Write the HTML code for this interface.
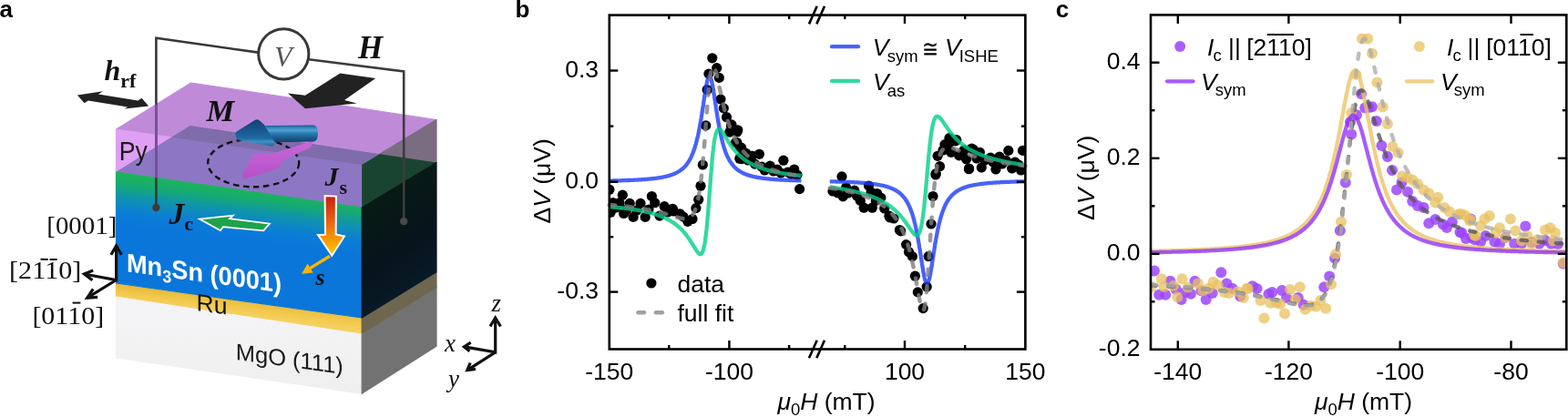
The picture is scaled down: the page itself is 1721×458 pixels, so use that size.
<!DOCTYPE html>
<html><head><meta charset="utf-8"><title>Figure</title>
<style>
html,body{margin:0;padding:0;background:#fff;}
body{width:1721px;height:458px;overflow:hidden;}
svg{display:block;}
.s{font-family:'Liberation Sans', Arial, Helvetica, sans-serif;}
.r{font-family:'Liberation Serif', 'Times New Roman', serif;}
</style></head><body>
<svg width="1721" height="458" viewBox="0 0 1721 458">
<rect width="1721" height="458" fill="#fff"/>

<defs>
<linearGradient id="mnF" gradientUnits="userSpaceOnUse" x1="262" y1="208" x2="255.5" y2="262">
<stop offset="0" stop-color="#1db25e"/><stop offset="0.15" stop-color="#17ad6c"/><stop offset="0.45" stop-color="#0f92b0"/><stop offset="0.75" stop-color="#0b7dd6"/><stop offset="1" stop-color="#0a76da"/></linearGradient>
<linearGradient id="mnF2" gradientUnits="userSpaceOnUse" x1="0" y1="250" x2="0" y2="340">
<stop offset="0" stop-color="#1a72d2" stop-opacity="0"/><stop offset="1" stop-color="#1466c6" stop-opacity="0.6"/></linearGradient>
<linearGradient id="mnR" gradientUnits="userSpaceOnUse" x1="400" y1="230" x2="470" y2="330">
<stop offset="0" stop-color="#071a14"/><stop offset="0.5" stop-color="#06141c"/><stop offset="1" stop-color="#0a1c2c"/></linearGradient>
<linearGradient id="ruF" gradientUnits="userSpaceOnUse" x1="262" y1="330" x2="260" y2="346">
<stop offset="0" stop-color="#e8bd3c"/><stop offset="0.5" stop-color="#f2c94e"/><stop offset="1" stop-color="#f6d060"/></linearGradient>
<linearGradient id="mgF" gradientUnits="userSpaceOnUse" x1="0" y1="340" x2="0" y2="430">
<stop offset="0" stop-color="#f4f4f6"/><stop offset="1" stop-color="#efefef"/></linearGradient>
<linearGradient id="jsG" x1="0" y1="0" x2="0" y2="1">
<stop offset="0" stop-color="#c81e10"/><stop offset="0.45" stop-color="#ee6410"/><stop offset="0.75" stop-color="#f89c00"/><stop offset="1" stop-color="#ffcc00"/></linearGradient>
<linearGradient id="mArrow" x1="0" y1="0" x2="0" y2="1">
<stop offset="0" stop-color="#1a4e80"/><stop offset="0.35" stop-color="#2a78a8"/><stop offset="0.55" stop-color="#1a5a8a"/><stop offset="1" stop-color="#123e68"/></linearGradient>
<linearGradient id="mHead" x1="0" y1="0" x2="0" y2="1">
<stop offset="0" stop-color="#1a4a7c"/><stop offset="0.6" stop-color="#1e6a9a"/><stop offset="0.8" stop-color="#3a8ab8"/><stop offset="1" stop-color="#154870"/></linearGradient>
</defs>
<polygon points="127.5,142.0 209.6,91.0 479.0,131.5 397.2,181.0" fill="#bf8bd9" stroke="#bf8bd9" stroke-width="1.2" stroke-linejoin="round"/>
<polygon points="127.5,142.0 397.2,181.0 397.2,228.0 127.5,189.0" fill="#df9ff4" stroke="#df9ff4" stroke-width="1.2" stroke-linejoin="round"/>
<polygon points="397.2,181.0 479.0,131.5 479.0,178.5 397.2,228.0" fill="#7a6d82" stroke="#7a6d82" stroke-width="1.2" stroke-linejoin="round"/>
<clipPath id="topPy"><polygon points="127.5,142.0 209.6,91.0 479.0,131.5 397.2,181.0"/></clipPath>
<clipPath id="frontPy"><polygon points="127.5,142.0 397.2,181.0 397.2,228.0 127.5,189.0"/></clipPath>
<clipPath id="rightPy"><polygon points="397.2,181.0 479.0,131.5 479.0,178.5 397.2,228.0"/></clipPath>
<clipPath id="tfPy"><polygon points="127.5,189.0 127.5,142.0 209.6,91.0 479.0,131.5 397.2,181.0 397.2,228.0"/></clipPath>
<polygon clip-path="url(#tfPy)" points="208.5,138.0 479.0,178.5 397.2,228.0 127.5,189.0" fill="#7f6caa"/>
<polygon clip-path="url(#frontPy)" points="208.5,138.0 479.0,178.5 397.2,228.0 127.5,189.0" fill="#8d77c4"/>
<polygon clip-path="url(#rightPy)" points="208.5,138.0 479.0,178.5 397.2,228.0 127.5,189.0" fill="#1a4432"/>
<polygon points="127.5,325.0 397.2,366.0 397.2,432.3 127.5,393.0" fill="url(#mgF)" stroke="url(#mgF)" stroke-width="1.2" stroke-linejoin="round"/>
<polygon points="397.2,366.0 479.0,315.5 479.0,380.3 397.2,432.3" fill="#727272" stroke="#727272" stroke-width="1.2" stroke-linejoin="round"/>
<polygon points="127.5,311.0 397.2,349.0 397.2,366.0 127.5,325.0" fill="url(#ruF)" stroke="url(#ruF)" stroke-width="1.2" stroke-linejoin="round"/>
<polygon points="397.2,349.0 479.0,298.8 479.0,315.5 397.2,366.0" fill="#6f6650" stroke="#6f6650" stroke-width="1.2" stroke-linejoin="round"/>
<polygon points="127.5,189.0 397.2,228.0 397.2,349.0 127.5,311.0" fill="url(#mnF)" stroke="url(#mnF)" stroke-width="1.2" stroke-linejoin="round"/>
<polygon points="397.2,228.0 479.0,178.5 479.0,298.8 397.2,349.0" fill="url(#mnR)" stroke="url(#mnR)" stroke-width="1.2" stroke-linejoin="round"/>
<polyline points="171.4,228 171.4,41.8 283.5,57.6" fill="none" stroke="#383838" stroke-width="2.6"/>
<line x1="171.4" y1="114.6" x2="171.4" y2="195.4" stroke="#7a52a0" stroke-width="2.6"/>
<circle cx="171.4" cy="228" r="4.2" fill="#3a3a3a"/>
<polyline points="339,65.2 443.2,78.5 443.2,243" fill="none" stroke="#3c3c3c" stroke-width="2.6"/>
<circle cx="443.2" cy="243" r="4.2" fill="#4a4a4a"/>
<circle cx="311.3" cy="59.3" r="27.6" fill="#fff" stroke="#383838" stroke-width="3"/>
<text class="r" x="301" y="73" font-size="32" font-style="italic" fill="#555">V</text>
<polygon points="373.3,80.4 412.3,86 378,110 391.7,113.5 335,119.2 316,102.4 335,104.8" fill="#222"/>
<text class="r" x="393" y="63.6" font-size="35" font-style="italic" font-weight="bold" fill="#111">H</text>
<polygon points="84.9,104.4 112.8,100.2 108,103.5 151.3,110.5 155.5,107.7 163.2,116.5 136.6,119.6 140.1,117.5 96.8,110.5 92.6,113.3" fill="#222"/>
<text class="r" x="114.5" y="88" font-size="32" font-style="italic" font-weight="bold" fill="#111">h<tspan font-size="22" font-style="normal" dy="8">rf</tspan></text>
<text class="r" x="226.5" y="132.6" font-size="34.5" font-style="italic" font-weight="bold" fill="#111">M</text>
<ellipse cx="278.2" cy="179" rx="50" ry="26.3" fill="none" stroke="#111" stroke-width="2.4" stroke-dasharray="6.5,4.5"/>
<linearGradient id="pinkG" x1="0" y1="0" x2="0" y2="1"><stop offset="0" stop-color="#c868d8"/><stop offset="1" stop-color="#b650c8"/></linearGradient>
<polygon points="265.4,193.1 278,169.6 299.7,168.4 344,154.5 341,162 310.5,176.2 305.7,184.7 268.4,196.7" fill="url(#pinkG)"/>
<linearGradient id="mShaft" gradientUnits="userSpaceOnUse" x1="0" y1="137.5" x2="0" y2="156"><stop offset="0" stop-color="#1a4f80"/><stop offset="0.12" stop-color="#2d7fb5"/><stop offset="0.3" stop-color="#4fa3d2"/><stop offset="0.5" stop-color="#2a78ae"/><stop offset="0.8" stop-color="#1a5686"/><stop offset="1" stop-color="#143f6a"/></linearGradient>
<linearGradient id="mHead2" gradientUnits="userSpaceOnUse" x1="0" y1="131" x2="0" y2="161"><stop offset="0" stop-color="#143e6c"/><stop offset="0.45" stop-color="#1a5a92"/><stop offset="0.7" stop-color="#1e6aa2"/><stop offset="0.82" stop-color="#3d92c4"/><stop offset="0.92" stop-color="#2a78b0"/><stop offset="1" stop-color="#184a78"/></linearGradient>
<path d="M291,138 L344,137.6 Q349,138 349,146.5 Q349,155 344,155.6 L300,156.3 Z" fill="url(#mShaft)"/>
<path d="M258.5,146 Q259,144.5 262,143 L280,131.8 Q283,130.5 285,132.5 L290,137 L301.5,156 Q302.5,160 298,160.5 L264,154.5 Q258,153 258.5,146 Z" fill="url(#mHead2)"/>
<polygon points="219,240.6 255.7,236.6 252,240.2 295.9,245.6 289.3,253.4 244.9,249.2 241.9,253.2" fill="#1fa34a" stroke="#fff" stroke-width="1.8" stroke-linejoin="miter"/>
<text class="r" x="185.5" y="245.8" font-size="33.5" font-style="italic" font-weight="bold" fill="#111">J<tspan font-size="22" font-style="normal" dy="7.5">c</tspan></text>
<polygon points="356.6,215.1 368.9,215.6 368.6,257.5 378,259.5 364.3,280.8 349,257.9 357,257.7" fill="url(#jsG)" stroke="#fff" stroke-width="2"/>
<text class="r" x="356.5" y="204.4" font-size="30" font-style="italic" font-weight="bold" fill="#111">J<tspan font-size="22" font-style="normal" dy="8.6" dx="1">s</tspan></text>
<line x1="362" y1="281.2" x2="337" y2="296.6" stroke="#fdb400" stroke-width="3.4"/>
<polygon points="331,300.8 337.6,289.4 343.6,299.6" fill="#fdb400"/>
<text class="r" x="346.5" y="313.4" font-size="26" font-style="italic" font-weight="bold" fill="#111">s</text>
<text class="s" x="130.8" y="176" font-size="29" textLength="31" lengthAdjust="spacingAndGlyphs" fill="#1a1a1a">Py</text>
<text class="s" transform="translate(139,298.3) skewY(7.7)" font-size="28.5" font-weight="bold" fill="#fff" textLength="170" lengthAdjust="spacingAndGlyphs">Mn<tspan font-size="19" dy="6">3</tspan><tspan dy="-6">Sn (0001)</tspan></text>
<text class="s" transform="translate(215.5,341) skewY(7.7)" font-size="26.5" fill="#111">Ru</text>
<text class="s" transform="translate(258.8,395) skewY(7.7)" font-size="25.5" textLength="118" lengthAdjust="spacingAndGlyphs" fill="#1a1a1a">MgO (111)</text>
<g stroke="#111" stroke-width="3.2" fill="none" stroke-linejoin="miter" stroke-linecap="butt"><polyline points="92.4,301 127.6,307.5 127.6,270.5"/><line x1="127.6" y1="307.5" x2="95.7" y2="327.2"/><polyline points="121.9,279.7 127.6,270 133.3,279.7"/><polyline points="102.2,297 92.4,301 101.4,307.8"/><polyline points="102.2,317.4 95.7,327.2 107.1,326.4"/></g>
<text class="r" x="51.3" y="257.4" font-size="27" textLength="77" lengthAdjust="spacingAndGlyphs" fill="#111">[0001]</text>
<text class="r" x="10.1" y="306" font-size="27" textLength="79.2" lengthAdjust="spacingAndGlyphs" fill="#111">[2110]</text>
<g stroke="#111" stroke-width="2"><line x1="44.5" y1="284.8" x2="52.8" y2="285"/><line x1="54.5" y1="285" x2="62.8" y2="285"/><line x1="79.6" y1="332.6" x2="88.4" y2="332.6"/></g>
<text class="r" x="35.4" y="356.2" font-size="27" textLength="78.8" lengthAdjust="spacingAndGlyphs" fill="#111">[0110]</text>
<g stroke="#111" stroke-width="3.2" fill="none" stroke-linejoin="miter" stroke-linecap="butt"><polyline points="509.4,380.9 543.7,386.9 543.7,349.5"/><line x1="543.7" y1="386.9" x2="512.8" y2="406.6"/><polyline points="538,358.5 543.7,349 549.4,358.5"/><polyline points="516.7,376.2 509.4,380.9 515.4,385.8"/><polyline points="516.2,398.5 512.8,406.6 522,405.4"/></g>
<text class="r" x="539.5" y="342.3" font-size="27" font-style="italic" fill="#111">z</text>
<text class="r" x="488" y="385.6" font-size="27" font-style="italic" fill="#111">x</text>
<text class="r" x="492" y="424.5" font-size="27" font-style="italic" fill="#111">y</text>
<text class="s" x="-0.5" y="19.2" font-size="26" font-weight="bold" fill="#000">a</text>
<text class="s" x="565.5" y="19.2" font-size="26" font-weight="bold" fill="#000">b</text>
<text class="s" x="1158.8" y="19.2" font-size="26" font-weight="bold" fill="#000">c</text>
<clipPath id="cbAll"><rect x="668.8" y="16.6" width="456.6" height="366.9"/></clipPath>
<g fill="#000" clip-path="url(#cbAll)"><circle cx="668.9" cy="208.3" r="5.6"/><circle cx="683.3" cy="214.2" r="5.6"/><circle cx="715.4" cy="215.5" r="5.6"/><circle cx="672.9" cy="222.7" r="5.6"/><circle cx="680.0" cy="222.7" r="5.6"/><circle cx="691.2" cy="223.4" r="5.6"/><circle cx="703.0" cy="223.4" r="5.6"/><circle cx="718.7" cy="222.7" r="5.6"/><circle cx="729.2" cy="226.7" r="5.6"/><circle cx="738.3" cy="229.3" r="5.6"/><circle cx="670.2" cy="233.2" r="5.6"/><circle cx="684.6" cy="234.5" r="5.6"/><circle cx="695.1" cy="238.4" r="5.6"/><circle cx="708.2" cy="238.4" r="5.6"/><circle cx="723.9" cy="237.1" r="5.6"/><circle cx="676.0" cy="228.0" r="5.6"/><circle cx="688.0" cy="230.0" r="5.6"/><circle cx="699.0" cy="231.0" r="5.6"/><circle cx="712.0" cy="230.0" r="5.6"/><circle cx="733.0" cy="233.0" r="5.6"/><circle cx="746.3" cy="234.8" r="5.6"/><circle cx="739.3" cy="232.0" r="5.6"/><circle cx="750.0" cy="238.0" r="5.6"/><circle cx="754.8" cy="243.3" r="5.6"/><circle cx="760.0" cy="240.5" r="5.6"/><circle cx="763.9" cy="228.6" r="5.6"/><circle cx="766.7" cy="219.3" r="5.6"/><circle cx="769.0" cy="204.2" r="5.6"/><circle cx="771.3" cy="181.0" r="5.6"/><circle cx="774.7" cy="137.9" r="5.6"/><circle cx="776.2" cy="98.5" r="5.6"/><circle cx="777.9" cy="81.1" r="5.6"/><circle cx="781.8" cy="63.8" r="5.6"/><circle cx="786.7" cy="74.6" r="5.6"/><circle cx="789.3" cy="85.4" r="5.6"/><circle cx="791.0" cy="109.0" r="5.6"/><circle cx="794.3" cy="118.9" r="5.6"/><circle cx="797.5" cy="128.7" r="5.6"/><circle cx="802.5" cy="138.5" r="5.6"/><circle cx="800.8" cy="145.1" r="5.6"/><circle cx="809.0" cy="145.0" r="5.6"/><circle cx="807.4" cy="156.6" r="5.6"/><circle cx="812.3" cy="161.5" r="5.6"/><circle cx="815.6" cy="169.7" r="5.6"/><circle cx="814.0" cy="174.6" r="5.6"/><circle cx="825.4" cy="171.3" r="5.6"/><circle cx="803.0" cy="136.9" r="5.6"/><circle cx="809.8" cy="142.8" r="5.6"/><circle cx="808.8" cy="156.5" r="5.6"/><circle cx="813.8" cy="162.4" r="5.6"/><circle cx="811.8" cy="174.2" r="5.6"/><circle cx="818.7" cy="168.3" r="5.6"/><circle cx="825.5" cy="171.3" r="5.6"/><circle cx="833.4" cy="169.3" r="5.6"/><circle cx="828.5" cy="180.1" r="5.6"/><circle cx="839.3" cy="187.0" r="5.6"/><circle cx="845.2" cy="182.1" r="5.6"/><circle cx="853.0" cy="186.0" r="5.6"/><circle cx="859.9" cy="176.2" r="5.6"/><circle cx="864.8" cy="189.0" r="5.6"/><circle cx="871.7" cy="186.0" r="5.6"/><circle cx="877.6" cy="207.6" r="5.6"/><circle cx="821.0" cy="176.0" r="5.6"/><circle cx="836.0" cy="183.0" r="5.6"/><circle cx="849.0" cy="188.0" r="5.6"/><circle cx="857.0" cy="190.0" r="5.6"/><circle cx="868.0" cy="191.0" r="5.6"/><circle cx="875.0" cy="192.0" r="5.6"/><circle cx="924.0" cy="193.9" r="5.6"/><circle cx="919.4" cy="211.9" r="5.6"/><circle cx="925.3" cy="215.8" r="5.6"/><circle cx="928.6" cy="206.0" r="5.6"/><circle cx="937.8" cy="209.2" r="5.6"/><circle cx="940.4" cy="215.1" r="5.6"/><circle cx="944.3" cy="220.4" r="5.6"/><circle cx="948.2" cy="228.2" r="5.6"/><circle cx="953.5" cy="204.0" r="5.6"/><circle cx="956.1" cy="211.2" r="5.6"/><circle cx="957.4" cy="228.2" r="5.6"/><circle cx="961.3" cy="220.4" r="5.6"/><circle cx="962.6" cy="212.5" r="5.6"/><circle cx="914.0" cy="210.0" r="5.6"/><circle cx="931.0" cy="212.0" r="5.6"/><circle cx="966.8" cy="217.2" r="5.6"/><circle cx="970.7" cy="229.0" r="5.6"/><circle cx="976.6" cy="238.8" r="5.6"/><circle cx="975.9" cy="237.2" r="5.6"/><circle cx="981.0" cy="240.0" r="5.6"/><circle cx="987.4" cy="252.5" r="5.6"/><circle cx="988.7" cy="253.9" r="5.6"/><circle cx="994.6" cy="268.6" r="5.6"/><circle cx="997.5" cy="276.7" r="5.6"/><circle cx="1001.4" cy="281.6" r="5.6"/><circle cx="1004.4" cy="303.2" r="5.6"/><circle cx="1007.3" cy="320.9" r="5.6"/><circle cx="1013.2" cy="338.6" r="5.6"/><circle cx="1017.2" cy="315.0" r="5.6"/><circle cx="1019.1" cy="281.6" r="5.6"/><circle cx="1022.0" cy="246.0" r="5.6"/><circle cx="1024.0" cy="215.5" r="5.6"/><circle cx="1027.0" cy="192.0" r="5.6"/><circle cx="1027.2" cy="190.6" r="5.6"/><circle cx="1031.5" cy="182.7" r="5.6"/><circle cx="1029.1" cy="171.3" r="5.6"/><circle cx="1037.0" cy="158.7" r="5.6"/><circle cx="1041.9" cy="151.7" r="5.6"/><circle cx="1048.8" cy="154.8" r="5.6"/><circle cx="1042.9" cy="166.0" r="5.6"/><circle cx="1052.7" cy="170.9" r="5.6"/><circle cx="1060.6" cy="174.8" r="5.6"/><circle cx="1066.5" cy="163.0" r="5.6"/><circle cx="1063.5" cy="185.7" r="5.6"/><circle cx="1044.0" cy="155.5" r="5.6"/><circle cx="1049.8" cy="153.6" r="5.6"/><circle cx="1044.0" cy="167.3" r="5.6"/><circle cx="1055.7" cy="169.3" r="5.6"/><circle cx="1063.6" cy="185.0" r="5.6"/><circle cx="1068.5" cy="164.4" r="5.6"/><circle cx="1075.4" cy="167.3" r="5.6"/><circle cx="1077.3" cy="184.0" r="5.6"/><circle cx="1087.2" cy="173.2" r="5.6"/><circle cx="1093.0" cy="186.0" r="5.6"/><circle cx="1097.0" cy="172.2" r="5.6"/><circle cx="1106.8" cy="165.4" r="5.6"/><circle cx="1110.7" cy="185.0" r="5.6"/><circle cx="1122.5" cy="165.4" r="5.6"/><circle cx="1120.6" cy="187.0" r="5.6"/><circle cx="1072.0" cy="174.0" r="5.6"/><circle cx="1081.0" cy="176.0" r="5.6"/><circle cx="1090.0" cy="178.0" r="5.6"/><circle cx="1100.0" cy="180.0" r="5.6"/><circle cx="1104.0" cy="176.0" r="5.6"/><circle cx="1114.0" cy="178.0" r="5.6"/><circle cx="1118.0" cy="181.0" r="5.6"/><circle cx="1058.0" cy="165.0" r="5.6"/><circle cx="1035.0" cy="165.0" r="5.6"/></g>
<clipPath id="cbL"><rect x="669" y="17" width="212" height="366"/></clipPath>
<clipPath id="cbR"><rect x="909" y="17" width="216" height="366"/></clipPath>
<path d="M668.8,198.6 L669.3,198.6 L669.9,198.6 L670.4,198.6 L670.9,198.6 L671.4,198.6 L672.0,198.6 L672.5,198.5 L673.0,198.5 L673.6,198.5 L674.1,198.5 L674.6,198.5 L675.1,198.5 L675.7,198.5 L676.2,198.4 L676.7,198.4 L677.2,198.4 L677.8,198.4 L678.3,198.4 L678.8,198.4 L679.4,198.4 L679.9,198.3 L680.4,198.3 L680.9,198.3 L681.5,198.3 L682.0,198.3 L682.5,198.3 L683.1,198.2 L683.6,198.2 L684.1,198.2 L684.6,198.2 L685.2,198.2 L685.7,198.2 L686.2,198.1 L686.8,198.1 L687.3,198.1 L687.8,198.1 L688.3,198.1 L688.9,198.0 L689.4,198.0 L689.9,198.0 L690.5,198.0 L691.0,198.0 L691.5,197.9 L692.0,197.9 L692.6,197.9 L693.1,197.9 L693.6,197.8 L694.1,197.8 L694.7,197.8 L695.2,197.8 L695.7,197.7 L696.3,197.7 L696.8,197.7 L697.3,197.7 L697.8,197.6 L698.4,197.6 L698.9,197.6 L699.4,197.6 L700.0,197.5 L700.5,197.5 L701.0,197.5 L701.5,197.4 L702.1,197.4 L702.6,197.4 L703.1,197.3 L703.7,197.3 L704.2,197.3 L704.7,197.2 L705.2,197.2 L705.8,197.2 L706.3,197.1 L706.8,197.1 L707.3,197.0 L707.9,197.0 L708.4,197.0 L708.9,196.9 L709.5,196.9 L710.0,196.8 L710.5,196.8 L711.0,196.7 L711.6,196.7 L712.1,196.6 L712.6,196.6 L713.2,196.5 L713.7,196.5 L714.2,196.4 L714.7,196.4 L715.3,196.3 L715.8,196.3 L716.3,196.2 L716.9,196.1 L717.4,196.1 L717.9,196.0 L718.4,196.0 L719.0,195.9 L719.5,195.8 L720.0,195.8 L720.6,195.7 L721.1,195.6 L721.6,195.5 L722.1,195.5 L722.7,195.4 L723.2,195.3 L723.7,195.2 L724.2,195.1 L724.8,195.0 L725.3,195.0 L725.8,194.9 L726.4,194.8 L726.9,194.7 L727.4,194.6 L727.9,194.5 L728.5,194.3 L729.0,194.2 L729.5,194.1 L730.1,194.0 L730.6,193.9 L731.1,193.8 L731.6,193.6 L732.2,193.5 L732.7,193.4 L733.2,193.2 L733.8,193.1 L734.3,192.9 L734.8,192.8 L735.3,192.6 L735.9,192.4 L736.4,192.3 L736.9,192.1 L737.4,191.9 L738.0,191.7 L738.5,191.5 L739.0,191.3 L739.6,191.1 L740.1,190.9 L740.6,190.6 L741.1,190.4 L741.7,190.1 L742.2,189.9 L742.7,189.6 L743.3,189.3 L743.8,189.0 L744.3,188.7 L744.8,188.4 L745.4,188.1 L745.9,187.8 L746.4,187.4 L747.0,187.0 L747.5,186.6 L748.0,186.2 L748.5,185.8 L749.1,185.4 L749.6,184.9 L750.1,184.4 L750.7,183.9 L751.2,183.4 L751.7,182.9 L752.2,182.3 L752.8,181.7 L753.3,181.0 L753.8,180.4 L754.3,179.6 L754.9,178.9 L755.4,178.1 L755.9,177.3 L756.5,176.4 L757.0,175.5 L757.5,174.6 L758.0,173.6 L758.6,172.5 L759.1,171.4 L759.6,170.2 L760.2,168.9 L760.7,167.6 L761.2,166.2 L761.7,164.7 L762.3,163.1 L762.8,161.4 L763.3,159.7 L763.9,157.8 L764.4,155.9 L764.9,153.8 L765.4,151.6 L766.0,149.3 L766.5,146.9 L767.0,144.3 L767.5,141.6 L768.1,138.8 L768.6,135.8 L769.1,132.8 L769.7,129.6 L770.2,126.3 L770.7,122.9 L771.2,119.4 L771.8,115.9 L772.3,112.3 L772.8,108.7 L773.4,105.2 L773.9,101.8 L774.4,98.5 L774.9,95.5 L775.5,92.6 L776.0,90.1 L776.5,88.0 L777.1,86.2 L777.6,84.9 L778.1,84.2 L778.6,83.9 L779.2,84.1 L779.7,84.9 L780.2,86.1 L780.8,87.8 L781.3,89.9 L781.8,92.4 L782.3,95.2 L782.9,98.3 L783.4,101.6 L783.9,105.0 L784.4,108.5 L785.0,112.0 L785.5,115.6 L786.0,119.1 L786.6,122.6 L787.1,126.0 L787.6,129.3 L788.1,132.5 L788.7,135.6 L789.2,138.6 L789.7,141.4 L790.3,144.1 L790.8,146.7 L791.3,149.1 L791.8,151.4 L792.4,153.6 L792.9,155.7 L793.4,157.7 L794.0,159.6 L794.5,161.3 L795.0,163.0 L795.5,164.6 L796.1,166.1 L796.6,167.5 L797.1,168.8 L797.6,170.1 L798.2,171.3 L798.7,172.4 L799.2,173.5 L799.8,174.5 L800.3,175.5 L800.8,176.4 L801.3,177.2 L801.9,178.1 L802.4,178.8 L802.9,179.6 L803.5,180.3 L804.0,181.0 L804.5,181.6 L805.0,182.2 L805.6,182.8 L806.1,183.4 L806.6,183.9 L807.2,184.4 L807.7,184.9 L808.2,185.4 L808.7,185.8 L809.3,186.2 L809.8,186.6 L810.3,187.0 L810.9,187.4 L811.4,187.7 L811.9,188.1 L812.4,188.4 L813.0,188.7 L813.5,189.0 L814.0,189.3 L814.5,189.6 L815.1,189.9 L815.6,190.1 L816.1,190.4 L816.7,190.6 L817.2,190.8 L817.7,191.1 L818.2,191.3 L818.8,191.5 L819.3,191.7 L819.8,191.9 L820.4,192.1 L820.9,192.2 L821.4,192.4 L821.9,192.6 L822.5,192.7 L823.0,192.9 L823.5,193.1 L824.1,193.2 L824.6,193.3 L825.1,193.5 L825.6,193.6 L826.2,193.7 L826.7,193.9 L827.2,194.0 L827.7,194.1 L828.3,194.2 L828.8,194.3 L829.3,194.4 L829.9,194.6 L830.4,194.7 L830.9,194.8 L831.4,194.9 L832.0,194.9 L832.5,195.0 L833.0,195.1 L833.6,195.2 L834.1,195.3 L834.6,195.4 L835.1,195.5 L835.7,195.5 L836.2,195.6 L836.7,195.7 L837.3,195.8 L837.8,195.8 L838.3,195.9 L838.8,196.0 L839.4,196.0 L839.9,196.1 L840.4,196.1 L841.0,196.2 L841.5,196.3 L842.0,196.3 L842.5,196.4 L843.1,196.4 L843.6,196.5 L844.1,196.5 L844.6,196.6 L845.2,196.6 L845.7,196.7 L846.2,196.7 L846.8,196.8 L847.3,196.8 L847.8,196.9 L848.3,196.9 L848.9,197.0 L849.4,197.0 L849.9,197.0 L850.5,197.1 L851.0,197.1 L851.5,197.2 L852.0,197.2 L852.6,197.2 L853.1,197.3 L853.6,197.3 L854.2,197.3 L854.7,197.4 L855.2,197.4 L855.7,197.4 L856.3,197.5 L856.8,197.5 L857.3,197.5 L857.8,197.5 L858.4,197.6 L858.9,197.6 L859.4,197.6 L860.0,197.7 L860.5,197.7 L861.0,197.7 L861.5,197.7 L862.1,197.8 L862.6,197.8 L863.1,197.8 L863.7,197.8 L864.2,197.9 L864.7,197.9 L865.2,197.9 L865.8,197.9 L866.3,198.0 L866.8,198.0 L867.4,198.0 L867.9,198.0 L868.4,198.0 L868.9,198.1 L869.5,198.1 L870.0,198.1 L870.5,198.1 L871.1,198.1 L871.6,198.2 L872.1,198.2 L872.6,198.2 L873.2,198.2 L873.7,198.2 L874.2,198.2 L874.7,198.3 L875.3,198.3 L875.8,198.3 L876.3,198.3 L876.9,198.3 L877.4,198.3 L877.9,198.4 L878.4,198.4 L879.0,198.4 L879.5,198.4" fill="none" stroke="#1a3bf9" stroke-opacity="0.8" stroke-width="4.3" stroke-linejoin="round"/>
<path d="M910.8,199.3 L911.3,199.3 L911.9,199.3 L912.4,199.3 L913.0,199.3 L913.5,199.4 L914.0,199.4 L914.6,199.4 L915.1,199.4 L915.6,199.4 L916.2,199.4 L916.7,199.4 L917.3,199.5 L917.8,199.5 L918.3,199.5 L918.9,199.5 L919.4,199.5 L919.9,199.5 L920.5,199.6 L921.0,199.6 L921.6,199.6 L922.1,199.6 L922.6,199.6 L923.2,199.6 L923.7,199.7 L924.2,199.7 L924.8,199.7 L925.3,199.7 L925.9,199.7 L926.4,199.8 L926.9,199.8 L927.5,199.8 L928.0,199.8 L928.5,199.8 L929.1,199.9 L929.6,199.9 L930.2,199.9 L930.7,199.9 L931.2,199.9 L931.8,200.0 L932.3,200.0 L932.9,200.0 L933.4,200.0 L933.9,200.1 L934.5,200.1 L935.0,200.1 L935.5,200.1 L936.1,200.2 L936.6,200.2 L937.2,200.2 L937.7,200.3 L938.2,200.3 L938.8,200.3 L939.3,200.4 L939.8,200.4 L940.4,200.4 L940.9,200.4 L941.5,200.5 L942.0,200.5 L942.5,200.5 L943.1,200.6 L943.6,200.6 L944.1,200.7 L944.7,200.7 L945.2,200.7 L945.8,200.8 L946.3,200.8 L946.8,200.9 L947.4,200.9 L947.9,200.9 L948.4,201.0 L949.0,201.0 L949.5,201.1 L950.1,201.1 L950.6,201.2 L951.1,201.2 L951.7,201.3 L952.2,201.3 L952.8,201.4 L953.3,201.4 L953.8,201.5 L954.4,201.5 L954.9,201.6 L955.4,201.7 L956.0,201.7 L956.5,201.8 L957.1,201.9 L957.6,201.9 L958.1,202.0 L958.7,202.1 L959.2,202.1 L959.7,202.2 L960.3,202.3 L960.8,202.4 L961.4,202.4 L961.9,202.5 L962.4,202.6 L963.0,202.7 L963.5,202.8 L964.0,202.9 L964.6,203.0 L965.1,203.1 L965.7,203.2 L966.2,203.3 L966.7,203.4 L967.3,203.5 L967.8,203.6 L968.3,203.7 L968.9,203.8 L969.4,204.0 L970.0,204.1 L970.5,204.2 L971.0,204.4 L971.6,204.5 L972.1,204.6 L972.7,204.8 L973.2,204.9 L973.7,205.1 L974.3,205.3 L974.8,205.4 L975.3,205.6 L975.9,205.8 L976.4,206.0 L977.0,206.2 L977.5,206.4 L978.0,206.6 L978.6,206.8 L979.1,207.1 L979.6,207.3 L980.2,207.5 L980.7,207.8 L981.3,208.1 L981.8,208.3 L982.3,208.6 L982.9,208.9 L983.4,209.2 L983.9,209.6 L984.5,209.9 L985.0,210.3 L985.6,210.6 L986.1,211.0 L986.6,211.4 L987.2,211.8 L987.7,212.3 L988.2,212.7 L988.8,213.2 L989.3,213.7 L989.9,214.3 L990.4,214.8 L990.9,215.4 L991.5,216.0 L992.0,216.7 L992.6,217.3 L993.1,218.0 L993.6,218.8 L994.2,219.6 L994.7,220.4 L995.2,221.3 L995.8,222.2 L996.3,223.1 L996.9,224.2 L997.4,225.2 L997.9,226.4 L998.5,227.6 L999.0,228.9 L999.5,230.2 L1000.1,231.6 L1000.6,233.1 L1001.2,234.7 L1001.7,236.4 L1002.2,238.2 L1002.8,240.1 L1003.3,242.1 L1003.8,244.2 L1004.4,246.4 L1004.9,248.7 L1005.5,251.2 L1006.0,253.8 L1006.5,256.5 L1007.1,259.4 L1007.6,262.3 L1008.1,265.4 L1008.7,268.7 L1009.2,272.0 L1009.8,275.4 L1010.3,278.8 L1010.8,282.3 L1011.4,285.9 L1011.9,289.3 L1012.5,292.7 L1013.0,296.0 L1013.5,299.2 L1014.1,302.0 L1014.6,304.6 L1015.1,306.9 L1015.7,308.7 L1016.2,310.2 L1016.8,311.1 L1017.3,311.5 L1017.8,311.4 L1018.4,310.9 L1018.9,309.8 L1019.4,308.2 L1020.0,306.2 L1020.5,303.9 L1021.1,301.2 L1021.6,298.2 L1022.1,295.0 L1022.7,291.7 L1023.2,288.2 L1023.7,284.8 L1024.3,281.2 L1024.8,277.7 L1025.4,274.3 L1025.9,270.9 L1026.4,267.6 L1027.0,264.5 L1027.5,261.4 L1028.1,258.5 L1028.6,255.6 L1029.1,253.0 L1029.7,250.4 L1030.2,248.0 L1030.7,245.7 L1031.3,243.5 L1031.8,241.4 L1032.4,239.5 L1032.9,237.6 L1033.4,235.9 L1034.0,234.2 L1034.5,232.6 L1035.0,231.2 L1035.6,229.8 L1036.1,228.5 L1036.7,227.2 L1037.2,226.0 L1037.7,224.9 L1038.3,223.8 L1038.8,222.8 L1039.3,221.9 L1039.9,221.0 L1040.4,220.1 L1041.0,219.3 L1041.5,218.5 L1042.0,217.8 L1042.6,217.1 L1043.1,216.4 L1043.6,215.8 L1044.2,215.2 L1044.7,214.6 L1045.3,214.1 L1045.8,213.6 L1046.3,213.1 L1046.9,212.6 L1047.4,212.1 L1048.0,211.7 L1048.5,211.3 L1049.0,210.9 L1049.6,210.5 L1050.1,210.2 L1050.6,209.8 L1051.2,209.5 L1051.7,209.1 L1052.3,208.8 L1052.8,208.5 L1053.3,208.3 L1053.9,208.0 L1054.4,207.7 L1054.9,207.5 L1055.5,207.2 L1056.0,207.0 L1056.6,206.8 L1057.1,206.5 L1057.6,206.3 L1058.2,206.1 L1058.7,205.9 L1059.2,205.7 L1059.8,205.6 L1060.3,205.4 L1060.9,205.2 L1061.4,205.1 L1061.9,204.9 L1062.5,204.7 L1063.0,204.6 L1063.5,204.5 L1064.1,204.3 L1064.6,204.2 L1065.2,204.0 L1065.7,203.9 L1066.2,203.8 L1066.8,203.7 L1067.3,203.6 L1067.9,203.5 L1068.4,203.3 L1068.9,203.2 L1069.5,203.1 L1070.0,203.0 L1070.5,202.9 L1071.1,202.8 L1071.6,202.8 L1072.2,202.7 L1072.7,202.6 L1073.2,202.5 L1073.8,202.4 L1074.3,202.3 L1074.8,202.3 L1075.4,202.2 L1075.9,202.1 L1076.5,202.0 L1077.0,202.0 L1077.5,201.9 L1078.1,201.8 L1078.6,201.8 L1079.1,201.7 L1079.7,201.6 L1080.2,201.6 L1080.8,201.5 L1081.3,201.5 L1081.8,201.4 L1082.4,201.4 L1082.9,201.3 L1083.4,201.3 L1084.0,201.2 L1084.5,201.2 L1085.1,201.1 L1085.6,201.1 L1086.1,201.0 L1086.7,201.0 L1087.2,200.9 L1087.8,200.9 L1088.3,200.8 L1088.8,200.8 L1089.4,200.8 L1089.9,200.7 L1090.4,200.7 L1091.0,200.6 L1091.5,200.6 L1092.1,200.6 L1092.6,200.5 L1093.1,200.5 L1093.7,200.5 L1094.2,200.4 L1094.7,200.4 L1095.3,200.4 L1095.8,200.3 L1096.4,200.3 L1096.9,200.3 L1097.4,200.3 L1098.0,200.2 L1098.5,200.2 L1099.0,200.2 L1099.6,200.1 L1100.1,200.1 L1100.7,200.1 L1101.2,200.1 L1101.7,200.0 L1102.3,200.0 L1102.8,200.0 L1103.3,200.0 L1103.9,199.9 L1104.4,199.9 L1105.0,199.9 L1105.5,199.9 L1106.0,199.8 L1106.6,199.8 L1107.1,199.8 L1107.7,199.8 L1108.2,199.8 L1108.7,199.7 L1109.3,199.7 L1109.8,199.7 L1110.3,199.7 L1110.9,199.7 L1111.4,199.6 L1112.0,199.6 L1112.5,199.6 L1113.0,199.6 L1113.6,199.6 L1114.1,199.6 L1114.6,199.5 L1115.2,199.5 L1115.7,199.5 L1116.3,199.5 L1116.8,199.5 L1117.3,199.5 L1117.9,199.5 L1118.4,199.4 L1118.9,199.4 L1119.5,199.4 L1120.0,199.4 L1120.6,199.4 L1121.1,199.4 L1121.6,199.4 L1122.2,199.3 L1122.7,199.3 L1123.2,199.3 L1123.8,199.3 L1124.3,199.3 L1124.9,199.3 L1125.4,199.3" fill="none" stroke="#1a3bf9" stroke-opacity="0.8" stroke-width="4.3" stroke-linejoin="round"/>
<path d="M668.8,227.2 L669.3,227.3 L669.9,227.3 L670.4,227.3 L670.9,227.4 L671.4,227.4 L672.0,227.5 L672.5,227.5 L673.0,227.5 L673.6,227.6 L674.1,227.6 L674.6,227.7 L675.1,227.7 L675.7,227.8 L676.2,227.8 L676.7,227.9 L677.2,227.9 L677.8,228.0 L678.3,228.0 L678.8,228.1 L679.4,228.1 L679.9,228.2 L680.4,228.2 L680.9,228.3 L681.5,228.3 L682.0,228.4 L682.5,228.4 L683.1,228.5 L683.6,228.5 L684.1,228.6 L684.6,228.7 L685.2,228.7 L685.7,228.8 L686.2,228.8 L686.8,228.9 L687.3,229.0 L687.8,229.0 L688.3,229.1 L688.9,229.2 L689.4,229.2 L689.9,229.3 L690.5,229.4 L691.0,229.4 L691.5,229.5 L692.0,229.6 L692.6,229.6 L693.1,229.7 L693.6,229.8 L694.1,229.9 L694.7,229.9 L695.2,230.0 L695.7,230.1 L696.3,230.2 L696.8,230.3 L697.3,230.4 L697.8,230.4 L698.4,230.5 L698.9,230.6 L699.4,230.7 L700.0,230.8 L700.5,230.9 L701.0,231.0 L701.5,231.1 L702.1,231.2 L702.6,231.3 L703.1,231.4 L703.7,231.5 L704.2,231.6 L704.7,231.7 L705.2,231.8 L705.8,231.9 L706.3,232.0 L706.8,232.1 L707.3,232.2 L707.9,232.3 L708.4,232.5 L708.9,232.6 L709.5,232.7 L710.0,232.8 L710.5,232.9 L711.0,233.1 L711.6,233.2 L712.1,233.3 L712.6,233.5 L713.2,233.6 L713.7,233.7 L714.2,233.9 L714.7,234.0 L715.3,234.2 L715.8,234.3 L716.3,234.5 L716.9,234.6 L717.4,234.8 L717.9,234.9 L718.4,235.1 L719.0,235.3 L719.5,235.4 L720.0,235.6 L720.6,235.8 L721.1,235.9 L721.6,236.1 L722.1,236.3 L722.7,236.5 L723.2,236.7 L723.7,236.9 L724.2,237.1 L724.8,237.3 L725.3,237.5 L725.8,237.7 L726.4,237.9 L726.9,238.1 L727.4,238.4 L727.9,238.6 L728.5,238.8 L729.0,239.1 L729.5,239.3 L730.1,239.5 L730.6,239.8 L731.1,240.0 L731.6,240.3 L732.2,240.6 L732.7,240.9 L733.2,241.1 L733.8,241.4 L734.3,241.7 L734.8,242.0 L735.3,242.3 L735.9,242.6 L736.4,242.9 L736.9,243.3 L737.4,243.6 L738.0,243.9 L738.5,244.3 L739.0,244.6 L739.6,245.0 L740.1,245.4 L740.6,245.7 L741.1,246.1 L741.7,246.5 L742.2,246.9 L742.7,247.4 L743.3,247.8 L743.8,248.2 L744.3,248.7 L744.8,249.1 L745.4,249.6 L745.9,250.1 L746.4,250.6 L747.0,251.1 L747.5,251.6 L748.0,252.1 L748.5,252.7 L749.1,253.2 L749.6,253.8 L750.1,254.4 L750.7,255.0 L751.2,255.6 L751.7,256.2 L752.2,256.9 L752.8,257.5 L753.3,258.2 L753.8,258.9 L754.3,259.6 L754.9,260.3 L755.4,261.1 L755.9,261.8 L756.5,262.6 L757.0,263.4 L757.5,264.2 L758.0,265.0 L758.6,265.8 L759.1,266.6 L759.6,267.5 L760.2,268.3 L760.7,269.2 L761.2,270.1 L761.7,270.9 L762.3,271.8 L762.8,272.7 L763.3,273.5 L763.9,274.3 L764.4,275.1 L764.9,275.9 L765.4,276.6 L766.0,277.3 L766.5,277.8 L767.0,278.3 L767.5,278.7 L768.1,279.0 L768.6,279.1 L769.1,279.1 L769.7,278.8 L770.2,278.3 L770.7,277.5 L771.2,276.4 L771.8,274.9 L772.3,273.1 L772.8,270.8 L773.4,268.1 L773.9,264.9 L774.4,261.1 L774.9,256.8 L775.5,252.0 L776.0,246.6 L776.5,240.8 L777.1,234.5 L777.6,227.9 L778.1,221.0 L778.6,213.9 L779.2,206.8 L779.7,199.7 L780.2,192.8 L780.8,186.2 L781.3,179.9 L781.8,174.1 L782.3,168.8 L782.9,164.0 L783.4,159.7 L783.9,156.0 L784.4,152.7 L785.0,150.0 L785.5,147.8 L786.0,146.0 L786.6,144.5 L787.1,143.4 L787.6,142.7 L788.1,142.2 L788.7,141.9 L789.2,141.9 L789.7,142.0 L790.3,142.2 L790.8,142.6 L791.3,143.1 L791.8,143.7 L792.4,144.4 L792.9,145.1 L793.4,145.9 L794.0,146.7 L794.5,147.5 L795.0,148.4 L795.5,149.2 L796.1,150.1 L796.6,150.9 L797.1,151.8 L797.6,152.7 L798.2,153.5 L798.7,154.4 L799.2,155.2 L799.8,156.0 L800.3,156.9 L800.8,157.7 L801.3,158.4 L801.9,159.2 L802.4,160.0 L802.9,160.7 L803.5,161.4 L804.0,162.1 L804.5,162.8 L805.0,163.5 L805.6,164.1 L806.1,164.8 L806.6,165.4 L807.2,166.0 L807.7,166.6 L808.2,167.2 L808.7,167.8 L809.3,168.3 L809.8,168.9 L810.3,169.4 L810.9,169.9 L811.4,170.4 L811.9,170.9 L812.4,171.4 L813.0,171.9 L813.5,172.3 L814.0,172.8 L814.5,173.2 L815.1,173.6 L815.6,174.0 L816.1,174.5 L816.7,174.9 L817.2,175.2 L817.7,175.6 L818.2,176.0 L818.8,176.4 L819.3,176.7 L819.8,177.1 L820.4,177.4 L820.9,177.7 L821.4,178.1 L821.9,178.4 L822.5,178.7 L823.0,179.0 L823.5,179.3 L824.1,179.6 L824.6,179.9 L825.1,180.1 L825.6,180.4 L826.2,180.7 L826.7,180.9 L827.2,181.2 L827.7,181.4 L828.3,181.7 L828.8,181.9 L829.3,182.2 L829.9,182.4 L830.4,182.6 L830.9,182.8 L831.4,183.1 L832.0,183.3 L832.5,183.5 L833.0,183.7 L833.6,183.9 L834.1,184.1 L834.6,184.3 L835.1,184.5 L835.7,184.7 L836.2,184.9 L836.7,185.0 L837.3,185.2 L837.8,185.4 L838.3,185.6 L838.8,185.7 L839.4,185.9 L839.9,186.1 L840.4,186.2 L841.0,186.4 L841.5,186.5 L842.0,186.7 L842.5,186.8 L843.1,187.0 L843.6,187.1 L844.1,187.2 L844.6,187.4 L845.2,187.5 L845.7,187.7 L846.2,187.8 L846.8,187.9 L847.3,188.0 L847.8,188.2 L848.3,188.3 L848.9,188.4 L849.4,188.5 L849.9,188.6 L850.5,188.8 L851.0,188.9 L851.5,189.0 L852.0,189.1 L852.6,189.2 L853.1,189.3 L853.6,189.4 L854.2,189.5 L854.7,189.6 L855.2,189.7 L855.7,189.8 L856.3,189.9 L856.8,190.0 L857.3,190.1 L857.8,190.2 L858.4,190.3 L858.9,190.4 L859.4,190.5 L860.0,190.5 L860.5,190.6 L861.0,190.7 L861.5,190.8 L862.1,190.9 L862.6,191.0 L863.1,191.0 L863.7,191.1 L864.2,191.2 L864.7,191.3 L865.2,191.3 L865.8,191.4 L866.3,191.5 L866.8,191.6 L867.4,191.6 L867.9,191.7 L868.4,191.8 L868.9,191.8 L869.5,191.9 L870.0,192.0 L870.5,192.0 L871.1,192.1 L871.6,192.1 L872.1,192.2 L872.6,192.3 L873.2,192.3 L873.7,192.4 L874.2,192.4 L874.7,192.5 L875.3,192.6 L875.8,192.6 L876.3,192.7 L876.9,192.7 L877.4,192.8 L877.9,192.8 L878.4,192.9 L879.0,192.9 L879.5,193.0" fill="none" stroke="#00cf88" stroke-opacity="0.8" stroke-width="4.3" stroke-linejoin="round"/>
<path d="M910.8,205.3 L911.3,205.4 L911.9,205.4 L912.4,205.5 L913.0,205.6 L913.5,205.7 L914.0,205.8 L914.6,205.8 L915.1,205.9 L915.6,206.0 L916.2,206.1 L916.7,206.2 L917.3,206.2 L917.8,206.3 L918.3,206.4 L918.9,206.5 L919.4,206.6 L919.9,206.7 L920.5,206.8 L921.0,206.9 L921.6,207.0 L922.1,207.0 L922.6,207.1 L923.2,207.2 L923.7,207.3 L924.2,207.4 L924.8,207.5 L925.3,207.6 L925.9,207.7 L926.4,207.8 L926.9,207.9 L927.5,208.0 L928.0,208.1 L928.5,208.2 L929.1,208.3 L929.6,208.4 L930.2,208.5 L930.7,208.6 L931.2,208.8 L931.8,208.9 L932.3,209.0 L932.9,209.1 L933.4,209.2 L933.9,209.3 L934.5,209.4 L935.0,209.6 L935.5,209.7 L936.1,209.8 L936.6,209.9 L937.2,210.0 L937.7,210.2 L938.2,210.3 L938.8,210.4 L939.3,210.6 L939.8,210.7 L940.4,210.8 L940.9,211.0 L941.5,211.1 L942.0,211.2 L942.5,211.4 L943.1,211.5 L943.6,211.7 L944.1,211.8 L944.7,212.0 L945.2,212.1 L945.8,212.3 L946.3,212.4 L946.8,212.6 L947.4,212.7 L947.9,212.9 L948.4,213.0 L949.0,213.2 L949.5,213.4 L950.1,213.5 L950.6,213.7 L951.1,213.9 L951.7,214.1 L952.2,214.2 L952.8,214.4 L953.3,214.6 L953.8,214.8 L954.4,215.0 L954.9,215.2 L955.4,215.4 L956.0,215.6 L956.5,215.8 L957.1,216.0 L957.6,216.2 L958.1,216.4 L958.7,216.6 L959.2,216.8 L959.7,217.0 L960.3,217.3 L960.8,217.5 L961.4,217.7 L961.9,217.9 L962.4,218.2 L963.0,218.4 L963.5,218.7 L964.0,218.9 L964.6,219.2 L965.1,219.4 L965.7,219.7 L966.2,220.0 L966.7,220.3 L967.3,220.5 L967.8,220.8 L968.3,221.1 L968.9,221.4 L969.4,221.7 L970.0,222.0 L970.5,222.3 L971.0,222.6 L971.6,222.9 L972.1,223.3 L972.7,223.6 L973.2,223.9 L973.7,224.3 L974.3,224.6 L974.8,225.0 L975.3,225.4 L975.9,225.8 L976.4,226.1 L977.0,226.5 L977.5,226.9 L978.0,227.3 L978.6,227.7 L979.1,228.2 L979.6,228.6 L980.2,229.0 L980.7,229.5 L981.3,230.0 L981.8,230.4 L982.3,230.9 L982.9,231.4 L983.4,231.9 L983.9,232.4 L984.5,232.9 L985.0,233.5 L985.6,234.0 L986.1,234.6 L986.6,235.1 L987.2,235.7 L987.7,236.3 L988.2,236.9 L988.8,237.5 L989.3,238.1 L989.9,238.8 L990.4,239.4 L990.9,240.1 L991.5,240.8 L992.0,241.5 L992.6,242.2 L993.1,242.9 L993.6,243.6 L994.2,244.4 L994.7,245.1 L995.2,245.9 L995.8,246.7 L996.3,247.4 L996.9,248.2 L997.4,249.0 L997.9,249.8 L998.5,250.6 L999.0,251.4 L999.5,252.1 L1000.1,252.9 L1000.6,253.7 L1001.2,254.4 L1001.7,255.1 L1002.2,255.8 L1002.8,256.4 L1003.3,257.0 L1003.8,257.5 L1004.4,257.9 L1004.9,258.2 L1005.5,258.5 L1006.0,258.6 L1006.5,258.6 L1007.1,258.4 L1007.6,258.0 L1008.1,257.4 L1008.7,256.5 L1009.2,255.4 L1009.8,254.0 L1010.3,252.3 L1010.8,250.2 L1011.4,247.7 L1011.9,244.8 L1012.5,241.5 L1013.0,237.7 L1013.5,233.6 L1014.1,229.0 L1014.6,224.0 L1015.1,218.6 L1015.7,213.0 L1016.2,207.0 L1016.8,200.9 L1017.3,194.7 L1017.8,188.5 L1018.4,182.3 L1018.9,176.3 L1019.4,170.5 L1020.0,165.0 L1020.5,159.8 L1021.1,155.0 L1021.6,150.6 L1022.1,146.7 L1022.7,143.1 L1023.2,140.0 L1023.7,137.4 L1024.3,135.1 L1024.8,133.2 L1025.4,131.6 L1025.9,130.3 L1026.4,129.4 L1027.0,128.6 L1027.5,128.1 L1028.1,127.9 L1028.6,127.8 L1029.1,127.8 L1029.7,128.0 L1030.2,128.3 L1030.7,128.7 L1031.3,129.1 L1031.8,129.7 L1032.4,130.3 L1032.9,130.9 L1033.4,131.6 L1034.0,132.3 L1034.5,133.1 L1035.0,133.8 L1035.6,134.6 L1036.1,135.4 L1036.7,136.2 L1037.2,137.0 L1037.7,137.7 L1038.3,138.5 L1038.8,139.3 L1039.3,140.1 L1039.9,140.8 L1040.4,141.6 L1041.0,142.4 L1041.5,143.1 L1042.0,143.8 L1042.6,144.5 L1043.1,145.2 L1043.6,145.9 L1044.2,146.6 L1044.7,147.2 L1045.3,147.9 L1045.8,148.5 L1046.3,149.1 L1046.9,149.8 L1047.4,150.4 L1048.0,150.9 L1048.5,151.5 L1049.0,152.1 L1049.6,152.6 L1050.1,153.2 L1050.6,153.7 L1051.2,154.2 L1051.7,154.7 L1052.3,155.2 L1052.8,155.7 L1053.3,156.2 L1053.9,156.6 L1054.4,157.1 L1054.9,157.5 L1055.5,158.0 L1056.0,158.4 L1056.6,158.8 L1057.1,159.2 L1057.6,159.6 L1058.2,160.0 L1058.7,160.4 L1059.2,160.8 L1059.8,161.2 L1060.3,161.5 L1060.9,161.9 L1061.4,162.2 L1061.9,162.6 L1062.5,162.9 L1063.0,163.2 L1063.5,163.6 L1064.1,163.9 L1064.6,164.2 L1065.2,164.5 L1065.7,164.8 L1066.2,165.1 L1066.8,165.4 L1067.3,165.7 L1067.9,166.0 L1068.4,166.2 L1068.9,166.5 L1069.5,166.8 L1070.0,167.0 L1070.5,167.3 L1071.1,167.5 L1071.6,167.8 L1072.2,168.0 L1072.7,168.3 L1073.2,168.5 L1073.8,168.7 L1074.3,169.0 L1074.8,169.2 L1075.4,169.4 L1075.9,169.6 L1076.5,169.9 L1077.0,170.1 L1077.5,170.3 L1078.1,170.5 L1078.6,170.7 L1079.1,170.9 L1079.7,171.1 L1080.2,171.3 L1080.8,171.5 L1081.3,171.7 L1081.8,171.8 L1082.4,172.0 L1082.9,172.2 L1083.4,172.4 L1084.0,172.6 L1084.5,172.7 L1085.1,172.9 L1085.6,173.1 L1086.1,173.2 L1086.7,173.4 L1087.2,173.5 L1087.8,173.7 L1088.3,173.9 L1088.8,174.0 L1089.4,174.2 L1089.9,174.3 L1090.4,174.5 L1091.0,174.6 L1091.5,174.8 L1092.1,174.9 L1092.6,175.0 L1093.1,175.2 L1093.7,175.3 L1094.2,175.5 L1094.7,175.6 L1095.3,175.7 L1095.8,175.9 L1096.4,176.0 L1096.9,176.1 L1097.4,176.2 L1098.0,176.4 L1098.5,176.5 L1099.0,176.6 L1099.6,176.7 L1100.1,176.8 L1100.7,177.0 L1101.2,177.1 L1101.7,177.2 L1102.3,177.3 L1102.8,177.4 L1103.3,177.5 L1103.9,177.6 L1104.4,177.8 L1105.0,177.9 L1105.5,178.0 L1106.0,178.1 L1106.6,178.2 L1107.1,178.3 L1107.7,178.4 L1108.2,178.5 L1108.7,178.6 L1109.3,178.7 L1109.8,178.8 L1110.3,178.9 L1110.9,179.0 L1111.4,179.1 L1112.0,179.2 L1112.5,179.3 L1113.0,179.4 L1113.6,179.4 L1114.1,179.5 L1114.6,179.6 L1115.2,179.7 L1115.7,179.8 L1116.3,179.9 L1116.8,180.0 L1117.3,180.1 L1117.9,180.1 L1118.4,180.2 L1118.9,180.3 L1119.5,180.4 L1120.0,180.5 L1120.6,180.6 L1121.1,180.6 L1121.6,180.7 L1122.2,180.8 L1122.7,180.9 L1123.2,180.9 L1123.8,181.0 L1124.3,181.1 L1124.9,181.2 L1125.4,181.3" fill="none" stroke="#00cf88" stroke-opacity="0.8" stroke-width="4.3" stroke-linejoin="round"/>
<path d="M668.8,225.0 L669.3,225.1 L669.9,225.1 L670.4,225.2 L670.9,225.2 L671.4,225.2 L672.0,225.3 L672.5,225.3 L673.0,225.4 L673.6,225.4 L674.1,225.5 L674.6,225.5 L675.1,225.6 L675.7,225.6 L676.2,225.6 L676.7,225.7 L677.2,225.7 L677.8,225.8 L678.3,225.8 L678.8,225.9 L679.4,225.9 L679.9,226.0 L680.4,226.0 L680.9,226.1 L681.5,226.1 L682.0,226.2 L682.5,226.3 L683.1,226.3 L683.6,226.4 L684.1,226.4 L684.6,226.5 L685.2,226.5 L685.7,226.6 L686.2,226.6 L686.8,226.7 L687.3,226.8 L687.8,226.8 L688.3,226.9 L688.9,226.9 L689.4,227.0 L689.9,227.1 L690.5,227.1 L691.0,227.2 L691.5,227.3 L692.0,227.3 L692.6,227.4 L693.1,227.5 L693.6,227.5 L694.1,227.6 L694.7,227.7 L695.2,227.7 L695.7,227.8 L696.3,227.9 L696.8,228.0 L697.3,228.0 L697.8,228.1 L698.4,228.2 L698.9,228.3 L699.4,228.3 L700.0,228.4 L700.5,228.5 L701.0,228.6 L701.5,228.6 L702.1,228.7 L702.6,228.8 L703.1,228.9 L703.7,229.0 L704.2,229.1 L704.7,229.1 L705.2,229.2 L705.8,229.3 L706.3,229.4 L706.8,229.5 L707.3,229.6 L707.9,229.7 L708.4,229.8 L708.9,229.9 L709.5,230.0 L710.0,230.1 L710.5,230.2 L711.0,230.3 L711.6,230.4 L712.1,230.5 L712.6,230.6 L713.2,230.7 L713.7,230.8 L714.2,230.9 L714.7,231.0 L715.3,231.1 L715.8,231.2 L716.3,231.3 L716.9,231.4 L717.4,231.6 L717.9,231.7 L718.4,231.8 L719.0,231.9 L719.5,232.0 L720.0,232.1 L720.6,232.3 L721.1,232.4 L721.6,232.5 L722.1,232.6 L722.7,232.8 L723.2,232.9 L723.7,233.0 L724.2,233.2 L724.8,233.3 L725.3,233.4 L725.8,233.6 L726.4,233.7 L726.9,233.8 L727.4,234.0 L727.9,234.1 L728.5,234.3 L729.0,234.4 L729.5,234.6 L730.1,234.7 L730.6,234.9 L731.1,235.0 L731.6,235.2 L732.2,235.3 L732.7,235.5 L733.2,235.6 L733.8,235.8 L734.3,235.9 L734.8,236.1 L735.3,236.3 L735.9,236.4 L736.4,236.6 L736.9,236.7 L737.4,236.9 L738.0,237.1 L738.5,237.2 L739.0,237.4 L739.6,237.5 L740.1,237.7 L740.6,237.9 L741.1,238.0 L741.7,238.2 L742.2,238.3 L742.7,238.5 L743.3,238.7 L743.8,238.8 L744.3,238.9 L744.8,239.1 L745.4,239.2 L745.9,239.4 L746.4,239.5 L747.0,239.6 L747.5,239.7 L748.0,239.8 L748.5,239.9 L749.1,240.0 L749.6,240.1 L750.1,240.2 L750.7,240.2 L751.2,240.3 L751.7,240.3 L752.2,240.3 L752.8,240.3 L753.3,240.2 L753.8,240.2 L754.3,240.1 L754.9,240.0 L755.4,239.8 L755.9,239.6 L756.5,239.4 L757.0,239.1 L757.5,238.7 L758.0,238.4 L758.6,237.9 L759.1,237.4 L759.6,236.8 L760.2,236.1 L760.7,235.3 L761.2,234.4 L761.7,233.4 L762.3,232.3 L762.8,231.1 L763.3,229.7 L763.9,228.1 L764.4,226.4 L764.9,224.4 L765.4,222.3 L766.0,219.9 L766.5,217.3 L767.0,214.4 L767.5,211.3 L768.1,207.8 L768.6,204.0 L769.1,199.9 L769.7,195.5 L770.2,190.7 L770.7,185.5 L771.2,180.0 L771.8,174.2 L772.3,168.1 L772.8,161.7 L773.4,155.0 L773.9,148.2 L774.4,141.2 L774.9,134.2 L775.5,127.2 L776.0,120.3 L776.5,113.7 L777.1,107.3 L777.6,101.4 L778.1,95.9 L778.6,90.9 L779.2,86.5 L779.7,82.7 L780.2,79.6 L780.8,77.1 L781.3,75.2 L781.8,73.9 L782.3,73.1 L782.9,72.9 L783.4,73.2 L783.9,73.9 L784.4,74.9 L785.0,76.3 L785.5,78.0 L786.0,79.8 L786.6,81.9 L787.1,84.1 L787.6,86.4 L788.1,88.8 L788.7,91.2 L789.2,93.7 L789.7,96.2 L790.3,98.7 L790.8,101.2 L791.3,103.6 L791.8,106.0 L792.4,108.4 L792.9,110.7 L793.4,113.0 L794.0,115.2 L794.5,117.4 L795.0,119.5 L795.5,121.5 L796.1,123.5 L796.6,125.4 L797.1,127.3 L797.6,129.1 L798.2,130.8 L798.7,132.5 L799.2,134.2 L799.8,135.7 L800.3,137.3 L800.8,138.8 L801.3,140.2 L801.9,141.6 L802.4,142.9 L802.9,144.2 L803.5,145.5 L804.0,146.7 L804.5,147.9 L805.0,149.1 L805.6,150.2 L806.1,151.2 L806.6,152.3 L807.2,153.3 L807.7,154.3 L808.2,155.2 L808.7,156.1 L809.3,157.0 L809.8,157.9 L810.3,158.8 L810.9,159.6 L811.4,160.4 L811.9,161.1 L812.4,161.9 L813.0,162.6 L813.5,163.3 L814.0,164.0 L814.5,164.7 L815.1,165.3 L815.6,166.0 L816.1,166.6 L816.7,167.2 L817.2,167.8 L817.7,168.4 L818.2,168.9 L818.8,169.5 L819.3,170.0 L819.8,170.5 L820.4,171.0 L820.9,171.5 L821.4,172.0 L821.9,172.4 L822.5,172.9 L823.0,173.3 L823.5,173.8 L824.1,174.2 L824.6,174.6 L825.1,175.0 L825.6,175.4 L826.2,175.8 L826.7,176.2 L827.2,176.6 L827.7,176.9 L828.3,177.3 L828.8,177.6 L829.3,178.0 L829.9,178.3 L830.4,178.6 L830.9,179.0 L831.4,179.3 L832.0,179.6 L832.5,179.9 L833.0,180.2 L833.6,180.5 L834.1,180.7 L834.6,181.0 L835.1,181.3 L835.7,181.6 L836.2,181.8 L836.7,182.1 L837.3,182.3 L837.8,182.6 L838.3,182.8 L838.8,183.1 L839.4,183.3 L839.9,183.5 L840.4,183.7 L841.0,184.0 L841.5,184.2 L842.0,184.4 L842.5,184.6 L843.1,184.8 L843.6,185.0 L844.1,185.2 L844.6,185.4 L845.2,185.6 L845.7,185.8 L846.2,186.0 L846.8,186.2 L847.3,186.3 L847.8,186.5 L848.3,186.7 L848.9,186.9 L849.4,187.0 L849.9,187.2 L850.5,187.4 L851.0,187.5 L851.5,187.7 L852.0,187.8 L852.6,188.0 L853.1,188.1 L853.6,188.3 L854.2,188.4 L854.7,188.6 L855.2,188.7 L855.7,188.9 L856.3,189.0 L856.8,189.1 L857.3,189.3 L857.8,189.4 L858.4,189.5 L858.9,189.6 L859.4,189.8 L860.0,189.9 L860.5,190.0 L861.0,190.1 L861.5,190.3 L862.1,190.4 L862.6,190.5 L863.1,190.6 L863.7,190.7 L864.2,190.8 L864.7,190.9 L865.2,191.0 L865.8,191.2 L866.3,191.3 L866.8,191.4 L867.4,191.5 L867.9,191.6 L868.4,191.7 L868.9,191.8 L869.5,191.9 L870.0,191.9 L870.5,192.0 L871.1,192.1 L871.6,192.2 L872.1,192.3 L872.6,192.4 L873.2,192.5 L873.7,192.6 L874.2,192.7 L874.7,192.8 L875.3,192.8 L875.8,192.9 L876.3,193.0 L876.9,193.1 L877.4,193.2 L877.9,193.2 L878.4,193.3 L879.0,193.4 L879.5,193.5" fill="none" stroke="#808080" stroke-opacity="0.8" stroke-width="4.5" stroke-dasharray="6.5,12.5" stroke-linecap="round"/>
<path d="M910.8,206.5 L911.3,206.5 L911.9,206.6 L912.4,206.7 L913.0,206.8 L913.5,206.9 L914.0,207.0 L914.6,207.0 L915.1,207.1 L915.6,207.2 L916.2,207.3 L916.7,207.4 L917.3,207.5 L917.8,207.6 L918.3,207.7 L918.9,207.8 L919.4,207.9 L919.9,208.0 L920.5,208.0 L921.0,208.1 L921.6,208.2 L922.1,208.3 L922.6,208.4 L923.2,208.5 L923.7,208.6 L924.2,208.8 L924.8,208.9 L925.3,209.0 L925.9,209.1 L926.4,209.2 L926.9,209.3 L927.5,209.4 L928.0,209.5 L928.5,209.6 L929.1,209.8 L929.6,209.9 L930.2,210.0 L930.7,210.1 L931.2,210.2 L931.8,210.4 L932.3,210.5 L932.9,210.6 L933.4,210.7 L933.9,210.9 L934.5,211.0 L935.0,211.1 L935.5,211.3 L936.1,211.4 L936.6,211.5 L937.2,211.7 L937.7,211.8 L938.2,212.0 L938.8,212.1 L939.3,212.3 L939.8,212.4 L940.4,212.6 L940.9,212.7 L941.5,212.9 L942.0,213.0 L942.5,213.2 L943.1,213.4 L943.6,213.5 L944.1,213.7 L944.7,213.9 L945.2,214.0 L945.8,214.2 L946.3,214.4 L946.8,214.6 L947.4,214.8 L947.9,214.9 L948.4,215.1 L949.0,215.3 L949.5,215.5 L950.1,215.7 L950.6,215.9 L951.1,216.1 L951.7,216.3 L952.2,216.6 L952.8,216.8 L953.3,217.0 L953.8,217.2 L954.4,217.5 L954.9,217.7 L955.4,217.9 L956.0,218.2 L956.5,218.4 L957.1,218.7 L957.6,218.9 L958.1,219.2 L958.7,219.4 L959.2,219.7 L959.7,220.0 L960.3,220.2 L960.8,220.5 L961.4,220.8 L961.9,221.1 L962.4,221.4 L963.0,221.7 L963.5,222.0 L964.0,222.3 L964.6,222.7 L965.1,223.0 L965.7,223.3 L966.2,223.7 L966.7,224.0 L967.3,224.4 L967.8,224.8 L968.3,225.1 L968.9,225.5 L969.4,225.9 L970.0,226.3 L970.5,226.7 L971.0,227.2 L971.6,227.6 L972.1,228.0 L972.7,228.5 L973.2,228.9 L973.7,229.4 L974.3,229.9 L974.8,230.4 L975.3,230.9 L975.9,231.4 L976.4,232.0 L977.0,232.5 L977.5,233.1 L978.0,233.6 L978.6,234.2 L979.1,234.8 L979.6,235.5 L980.2,236.1 L980.7,236.8 L981.3,237.5 L981.8,238.2 L982.3,238.9 L982.9,239.6 L983.4,240.4 L983.9,241.2 L984.5,242.0 L985.0,242.8 L985.6,243.7 L986.1,244.5 L986.6,245.5 L987.2,246.4 L987.7,247.4 L988.2,248.4 L988.8,249.4 L989.3,250.5 L989.9,251.6 L990.4,252.7 L990.9,253.9 L991.5,255.2 L992.0,256.4 L992.6,257.7 L993.1,259.1 L993.6,260.5 L994.2,262.0 L994.7,263.5 L995.2,265.1 L995.8,266.7 L996.3,268.4 L996.9,270.1 L997.4,272.0 L997.9,273.8 L998.5,275.8 L999.0,277.8 L999.5,279.9 L1000.1,282.1 L1000.6,284.4 L1001.2,286.7 L1001.7,289.1 L1002.2,291.6 L1002.8,294.2 L1003.3,296.8 L1003.8,299.6 L1004.4,302.4 L1004.9,305.2 L1005.5,308.2 L1006.0,311.1 L1006.5,314.1 L1007.1,317.2 L1007.6,320.2 L1008.1,323.1 L1008.7,326.1 L1009.2,328.9 L1009.8,331.5 L1010.3,334.0 L1010.8,336.2 L1011.4,338.0 L1011.9,339.5 L1012.5,340.5 L1013.0,340.9 L1013.5,340.7 L1014.1,339.8 L1014.6,338.1 L1015.1,335.6 L1015.7,332.3 L1016.2,328.0 L1016.8,322.9 L1017.3,317.1 L1017.8,310.4 L1018.4,303.2 L1018.9,295.4 L1019.4,287.2 L1020.0,278.8 L1020.5,270.3 L1021.1,261.9 L1021.6,253.5 L1022.1,245.4 L1022.7,237.7 L1023.2,230.3 L1023.7,223.4 L1024.3,216.9 L1024.8,211.0 L1025.4,205.5 L1025.9,200.4 L1026.4,195.9 L1027.0,191.7 L1027.5,188.0 L1028.1,184.6 L1028.6,181.6 L1029.1,179.0 L1029.7,176.6 L1030.2,174.5 L1030.7,172.6 L1031.3,171.0 L1031.8,169.5 L1032.4,168.2 L1032.9,167.1 L1033.4,166.2 L1034.0,165.4 L1034.5,164.6 L1035.0,164.0 L1035.6,163.5 L1036.1,163.1 L1036.7,162.7 L1037.2,162.5 L1037.7,162.2 L1038.3,162.1 L1038.8,161.9 L1039.3,161.8 L1039.9,161.8 L1040.4,161.8 L1041.0,161.8 L1041.5,161.9 L1042.0,161.9 L1042.6,162.0 L1043.1,162.1 L1043.6,162.2 L1044.2,162.4 L1044.7,162.5 L1045.3,162.7 L1045.8,162.9 L1046.3,163.0 L1046.9,163.2 L1047.4,163.4 L1048.0,163.6 L1048.5,163.8 L1049.0,164.0 L1049.6,164.2 L1050.1,164.5 L1050.6,164.7 L1051.2,164.9 L1051.7,165.1 L1052.3,165.3 L1052.8,165.5 L1053.3,165.8 L1053.9,166.0 L1054.4,166.2 L1054.9,166.4 L1055.5,166.6 L1056.0,166.8 L1056.6,167.1 L1057.1,167.3 L1057.6,167.5 L1058.2,167.7 L1058.7,167.9 L1059.2,168.1 L1059.8,168.3 L1060.3,168.5 L1060.9,168.7 L1061.4,168.9 L1061.9,169.1 L1062.5,169.3 L1063.0,169.5 L1063.5,169.7 L1064.1,169.9 L1064.6,170.1 L1065.2,170.3 L1065.7,170.4 L1066.2,170.6 L1066.8,170.8 L1067.3,171.0 L1067.9,171.2 L1068.4,171.3 L1068.9,171.5 L1069.5,171.7 L1070.0,171.8 L1070.5,172.0 L1071.1,172.2 L1071.6,172.3 L1072.2,172.5 L1072.7,172.6 L1073.2,172.8 L1073.8,173.0 L1074.3,173.1 L1074.8,173.3 L1075.4,173.4 L1075.9,173.6 L1076.5,173.7 L1077.0,173.8 L1077.5,174.0 L1078.1,174.1 L1078.6,174.3 L1079.1,174.4 L1079.7,174.5 L1080.2,174.7 L1080.8,174.8 L1081.3,174.9 L1081.8,175.1 L1082.4,175.2 L1082.9,175.3 L1083.4,175.4 L1084.0,175.6 L1084.5,175.7 L1085.1,175.8 L1085.6,175.9 L1086.1,176.0 L1086.7,176.2 L1087.2,176.3 L1087.8,176.4 L1088.3,176.5 L1088.8,176.6 L1089.4,176.7 L1089.9,176.8 L1090.4,176.9 L1091.0,177.1 L1091.5,177.2 L1092.1,177.3 L1092.6,177.4 L1093.1,177.5 L1093.7,177.6 L1094.2,177.7 L1094.7,177.8 L1095.3,177.9 L1095.8,178.0 L1096.4,178.1 L1096.9,178.2 L1097.4,178.3 L1098.0,178.3 L1098.5,178.4 L1099.0,178.5 L1099.6,178.6 L1100.1,178.7 L1100.7,178.8 L1101.2,178.9 L1101.7,179.0 L1102.3,179.1 L1102.8,179.1 L1103.3,179.2 L1103.9,179.3 L1104.4,179.4 L1105.0,179.5 L1105.5,179.6 L1106.0,179.6 L1106.6,179.7 L1107.1,179.8 L1107.7,179.9 L1108.2,180.0 L1108.7,180.0 L1109.3,180.1 L1109.8,180.2 L1110.3,180.3 L1110.9,180.3 L1111.4,180.4 L1112.0,180.5 L1112.5,180.6 L1113.0,180.6 L1113.6,180.7 L1114.1,180.8 L1114.6,180.8 L1115.2,180.9 L1115.7,181.0 L1116.3,181.0 L1116.8,181.1 L1117.3,181.2 L1117.9,181.2 L1118.4,181.3 L1118.9,181.4 L1119.5,181.4 L1120.0,181.5 L1120.6,181.6 L1121.1,181.6 L1121.6,181.7 L1122.2,181.7 L1122.7,181.8 L1123.2,181.9 L1123.8,181.9 L1124.3,182.0 L1124.9,182.0 L1125.4,182.1" fill="none" stroke="#808080" stroke-opacity="0.8" stroke-width="4.5" stroke-dasharray="6.5,12.5" stroke-linecap="round"/>
<rect x="668.8" y="16.6" width="456.6" height="366.9" fill="none" stroke="#000" stroke-width="2.6"/>
<line x1="734.3" y1="383.5" x2="734.3" y2="379.0" stroke="#000" stroke-width="2.4"/>
<line x1="734.3" y1="16.6" x2="734.3" y2="21.1" stroke="#000" stroke-width="2.4"/>
<line x1="800.4" y1="383.5" x2="800.4" y2="374.0" stroke="#000" stroke-width="2.4"/>
<line x1="800.4" y1="16.6" x2="800.4" y2="26.1" stroke="#000" stroke-width="2.4"/>
<line x1="866.2" y1="383.5" x2="866.2" y2="379.0" stroke="#000" stroke-width="2.4"/>
<line x1="866.2" y1="16.6" x2="866.2" y2="21.1" stroke="#000" stroke-width="2.4"/>
<line x1="927.3" y1="383.5" x2="927.3" y2="379.0" stroke="#000" stroke-width="2.4"/>
<line x1="927.3" y1="16.6" x2="927.3" y2="21.1" stroke="#000" stroke-width="2.4"/>
<line x1="993" y1="383.5" x2="993" y2="374.0" stroke="#000" stroke-width="2.4"/>
<line x1="993" y1="16.6" x2="993" y2="26.1" stroke="#000" stroke-width="2.4"/>
<line x1="1059.2" y1="383.5" x2="1059.2" y2="379.0" stroke="#000" stroke-width="2.4"/>
<line x1="1059.2" y1="16.6" x2="1059.2" y2="21.1" stroke="#000" stroke-width="2.4"/>
<line x1="668.8" y1="77.5" x2="678.3" y2="77.5" stroke="#000" stroke-width="2.4"/>
<line x1="1125.4" y1="77.5" x2="1115.9" y2="77.5" stroke="#000" stroke-width="2.4"/>
<line x1="668.8" y1="138.6" x2="673.3" y2="138.6" stroke="#000" stroke-width="2.4"/>
<line x1="1125.4" y1="138.6" x2="1120.9" y2="138.6" stroke="#000" stroke-width="2.4"/>
<line x1="668.8" y1="199.7" x2="678.3" y2="199.7" stroke="#000" stroke-width="2.4"/>
<line x1="1125.4" y1="199.7" x2="1115.9" y2="199.7" stroke="#000" stroke-width="2.4"/>
<line x1="668.8" y1="260.2" x2="673.3" y2="260.2" stroke="#000" stroke-width="2.4"/>
<line x1="1125.4" y1="260.2" x2="1120.9" y2="260.2" stroke="#000" stroke-width="2.4"/>
<line x1="668.8" y1="320.6" x2="678.3" y2="320.6" stroke="#000" stroke-width="2.4"/>
<line x1="1125.4" y1="320.6" x2="1115.9" y2="320.6" stroke="#000" stroke-width="2.4"/>
<line x1="888.0" y1="26.400000000000002" x2="896.7" y2="6.800000000000001" stroke="#000" stroke-width="2.6"/>
<line x1="896.3" y1="26.400000000000002" x2="905.0" y2="6.800000000000001" stroke="#000" stroke-width="2.6"/>
<line x1="888.0" y1="393.3" x2="896.7" y2="373.7" stroke="#000" stroke-width="2.6"/>
<line x1="896.3" y1="393.3" x2="905.0" y2="373.7" stroke="#000" stroke-width="2.6"/>
<text class="s" x="657" y="84.9" font-size="26.5" fill="#000" text-anchor="end">0.3</text>
<text class="s" x="657" y="207.2" font-size="26.5" fill="#000" text-anchor="end">0.0</text>
<text class="s" x="657" y="328.2" font-size="26.5" fill="#000" text-anchor="end">-0.3</text>
<text class="s" x="668.8" y="416.5" font-size="26.5" fill="#000" text-anchor="middle">-150</text>
<text class="s" x="800.4" y="416.5" font-size="26.5" fill="#000" text-anchor="middle">-100</text>
<text class="s" x="993" y="416.5" font-size="26.5" fill="#000" text-anchor="middle">100</text>
<text class="s" x="1125.4" y="416.5" font-size="26.5" fill="#000" text-anchor="middle">150</text>
<text class="s" x="907" y="450" font-size="26.5" text-anchor="middle" fill="#000"><tspan font-style="italic">μ</tspan><tspan font-size="18.5" dy="6">0</tspan><tspan font-style="italic" dy="-6">H</tspan> (mT)</text>
<text class="s" transform="translate(604,198.9) rotate(-90)" font-size="26.5" text-anchor="middle" fill="#000">Δ<tspan font-style="italic">V</tspan> (μV)</text>
<line x1="913" y1="51.2" x2="942" y2="51.2" stroke="#4862fa" stroke-width="4.3" stroke-linecap="round"/>
<line x1="913" y1="88.9" x2="942" y2="88.9" stroke="#33d99f" stroke-width="4.3" stroke-linecap="round"/>
<text class="s" x="957.8" y="61" font-size="26.5" font-style="italic" fill="#000">V</text>
<text class="s" x="973.8" y="67.7" font-size="18.5" fill="#000">sym</text>
<text class="s" transform="translate(1012,62.6) scale(0.8,1)" x="0" y="0" font-size="26.5" fill="#000">≅</text>
<text class="s" x="1037" y="61" font-size="26.5" font-style="italic" fill="#000">V</text>
<text class="s" x="1052.7" y="67.7" font-size="18.5" fill="#000">ISHE</text>
<text class="s" x="958" y="99.1" font-size="26.5" font-style="italic" fill="#000">V</text>
<text class="s" x="973.8" y="106.1" font-size="18.5" fill="#000">as</text>
<circle cx="714.9" cy="311" r="5.6" fill="#000"/>
<line x1="700.5" y1="343.2" x2="707" y2="343.2" stroke="#a0a0a0" stroke-width="4.5" stroke-linecap="round"/>
<line x1="720" y1="343.2" x2="726.8" y2="343.2" stroke="#a0a0a0" stroke-width="4.5" stroke-linecap="round"/>
<text class="s" x="743.5" y="320.8" font-size="26.5" fill="#000">data</text>
<text class="s" x="743.5" y="352.7" font-size="26.5" fill="#000">full fit</text>
<clipPath id="cc"><rect x="1263" y="16" width="456" height="368"/></clipPath>
<g clip-path="url(#cc)">
<g fill="#9c45fc" fill-opacity="0.85"><circle cx="1267.0" cy="297.5" r="6"/><circle cx="1272.2" cy="323.7" r="6"/><circle cx="1279.2" cy="323.7" r="6"/><circle cx="1284.4" cy="308.8" r="6"/><circle cx="1290.6" cy="317.5" r="6"/><circle cx="1296.7" cy="328.9" r="6"/><circle cx="1301.0" cy="321.0" r="6"/><circle cx="1307.0" cy="322.8" r="6"/><circle cx="1311.5" cy="308.8" r="6"/><circle cx="1318.5" cy="319.3" r="6"/><circle cx="1323.7" cy="328.9" r="6"/><circle cx="1330.7" cy="321.9" r="6"/><circle cx="1340.3" cy="299.2" r="6"/><circle cx="1346.4" cy="311.4" r="6"/><circle cx="1352.5" cy="316.7" r="6"/><circle cx="1361.3" cy="325.4" r="6"/><circle cx="1374.7" cy="314.2" r="6"/><circle cx="1379.6" cy="317.1" r="6"/><circle cx="1392.4" cy="323.0" r="6"/><circle cx="1396.3" cy="321.1" r="6"/><circle cx="1407.1" cy="319.1" r="6"/><circle cx="1412.0" cy="327.0" r="6"/><circle cx="1424.8" cy="327.0" r="6"/><circle cx="1430.7" cy="334.8" r="6"/><circle cx="1453.3" cy="315.2" r="6"/><circle cx="1459.2" cy="303.4" r="6"/><circle cx="1465.1" cy="283.7" r="6"/><circle cx="1470.8" cy="253.3" r="6"/><circle cx="1476.8" cy="200.4" r="6"/><circle cx="1482.0" cy="134.0" r="6"/><circle cx="1483.2" cy="147.5" r="6"/><circle cx="1489.0" cy="126.3" r="6"/><circle cx="1494.0" cy="103.1" r="6"/><circle cx="1498.2" cy="118.6" r="6"/><circle cx="1502.8" cy="118.1" r="6"/><circle cx="1506.0" cy="117.2" r="6"/><circle cx="1510.8" cy="132.9" r="6"/><circle cx="1516.4" cy="160.0" r="6"/><circle cx="1522.9" cy="172.0" r="6"/><circle cx="1528.0" cy="187.0" r="6"/><circle cx="1533.0" cy="208.4" r="6"/><circle cx="1538.5" cy="200.6" r="6"/><circle cx="1545.0" cy="210.8" r="6"/><circle cx="1550.2" cy="221.0" r="6"/><circle cx="1562.6" cy="228.1" r="6"/><circle cx="1568.3" cy="245.2" r="6"/><circle cx="1575.4" cy="240.9" r="6"/><circle cx="1583.9" cy="246.6" r="6"/><circle cx="1593.9" cy="243.8" r="6"/><circle cx="1602.4" cy="255.1" r="6"/><circle cx="1615.2" cy="260.8" r="6"/><circle cx="1604.4" cy="255.7" r="6"/><circle cx="1614.2" cy="240.4" r="6"/><circle cx="1618.6" cy="263.3" r="6"/><circle cx="1625.1" cy="265.5" r="6"/><circle cx="1630.6" cy="259.0" r="6"/><circle cx="1640.4" cy="265.5" r="6"/><circle cx="1652.4" cy="261.1" r="6"/><circle cx="1662.2" cy="267.7" r="6"/><circle cx="1674.3" cy="248.5" r="6"/><circle cx="1669.9" cy="267.7" r="6"/><circle cx="1689.5" cy="267.7" r="6"/><circle cx="1702.6" cy="267.7" r="6"/><circle cx="1715.7" cy="289.5" r="6"/><circle cx="1556.0" cy="226.0" r="6"/><circle cx="1588.0" cy="250.0" r="6"/><circle cx="1609.0" cy="262.0" r="6"/><circle cx="1646.0" cy="268.0" r="6"/><circle cx="1681.0" cy="266.0" r="6"/><circle cx="1696.0" cy="264.0" r="6"/><circle cx="1710.0" cy="268.0" r="6"/></g>
<g fill="#e8c05e" fill-opacity="0.75"><circle cx="1263.5" cy="315.0" r="6"/><circle cx="1274.8" cy="306.2" r="6"/><circle cx="1277.5" cy="315.0" r="6"/><circle cx="1288.0" cy="314.0" r="6"/><circle cx="1292.3" cy="326.3" r="6"/><circle cx="1297.5" cy="306.2" r="6"/><circle cx="1303.7" cy="315.8" r="6"/><circle cx="1315.0" cy="311.4" r="6"/><circle cx="1320.2" cy="319.3" r="6"/><circle cx="1326.4" cy="316.7" r="6"/><circle cx="1331.6" cy="309.7" r="6"/><circle cx="1336.8" cy="313.2" r="6"/><circle cx="1343.8" cy="321.0" r="6"/><circle cx="1349.0" cy="321.9" r="6"/><circle cx="1358.7" cy="320.2" r="6"/><circle cx="1364.8" cy="327.1" r="6"/><circle cx="1368.3" cy="316.7" r="6"/><circle cx="1369.8" cy="317.1" r="6"/><circle cx="1383.6" cy="329.9" r="6"/><circle cx="1394.4" cy="332.8" r="6"/><circle cx="1401.2" cy="332.8" r="6"/><circle cx="1405.2" cy="333.8" r="6"/><circle cx="1416.0" cy="318.1" r="6"/><circle cx="1426.8" cy="315.2" r="6"/><circle cx="1421.9" cy="328.9" r="6"/><circle cx="1432.7" cy="339.7" r="6"/><circle cx="1438.6" cy="335.8" r="6"/><circle cx="1444.4" cy="336.8" r="6"/><circle cx="1449.4" cy="329.9" r="6"/><circle cx="1455.2" cy="338.7" r="6"/><circle cx="1387.5" cy="349.5" r="6"/><circle cx="1410.1" cy="344.6" r="6"/><circle cx="1461.1" cy="312.2" r="6"/><circle cx="1466.0" cy="279.2" r="6"/><circle cx="1472.0" cy="243.7" r="6"/><circle cx="1478.0" cy="192.0" r="6"/><circle cx="1483.2" cy="124.0" r="6"/><circle cx="1488.5" cy="82.0" r="6"/><circle cx="1495.0" cy="42.4" r="6"/><circle cx="1501.2" cy="42.4" r="6"/><circle cx="1506.0" cy="58.8" r="6"/><circle cx="1511.5" cy="90.5" r="6"/><circle cx="1517.8" cy="117.5" r="6"/><circle cx="1522.9" cy="136.0" r="6"/><circle cx="1528.5" cy="161.0" r="6"/><circle cx="1534.6" cy="167.8" r="6"/><circle cx="1539.2" cy="193.5" r="6"/><circle cx="1545.0" cy="195.0" r="6"/><circle cx="1550.5" cy="197.8" r="6"/><circle cx="1556.0" cy="202.0" r="6"/><circle cx="1562.5" cy="208.6" r="6"/><circle cx="1568.3" cy="212.5" r="6"/><circle cx="1578.2" cy="216.8" r="6"/><circle cx="1575.4" cy="222.4" r="6"/><circle cx="1585.3" cy="228.1" r="6"/><circle cx="1591.0" cy="232.4" r="6"/><circle cx="1601.0" cy="235.2" r="6"/><circle cx="1608.1" cy="236.6" r="6"/><circle cx="1613.8" cy="240.9" r="6"/><circle cx="1618.0" cy="258.0" r="6"/><circle cx="1603.3" cy="234.9" r="6"/><circle cx="1613.1" cy="242.6" r="6"/><circle cx="1625.1" cy="248.0" r="6"/><circle cx="1629.5" cy="240.4" r="6"/><circle cx="1634.9" cy="237.1" r="6"/><circle cx="1619.7" cy="259.0" r="6"/><circle cx="1645.9" cy="250.2" r="6"/><circle cx="1641.5" cy="255.7" r="6"/><circle cx="1657.9" cy="240.4" r="6"/><circle cx="1652.4" cy="261.1" r="6"/><circle cx="1663.3" cy="253.5" r="6"/><circle cx="1669.9" cy="264.4" r="6"/><circle cx="1676.4" cy="258.9" r="6"/><circle cx="1680.8" cy="267.7" r="6"/><circle cx="1687.4" cy="263.3" r="6"/><circle cx="1696.1" cy="252.4" r="6"/><circle cx="1701.5" cy="250.2" r="6"/><circle cx="1707.0" cy="255.7" r="6"/><circle cx="1704.8" cy="264.4" r="6"/><circle cx="1715.7" cy="288.4" r="6"/></g>
<path d="M1263.0,275.8 L1263.8,275.7 L1264.5,275.7 L1265.3,275.7 L1266.0,275.7 L1266.8,275.7 L1267.6,275.7 L1268.3,275.6 L1269.1,275.6 L1269.9,275.6 L1270.6,275.6 L1271.4,275.6 L1272.1,275.6 L1272.9,275.5 L1273.7,275.5 L1274.4,275.5 L1275.2,275.5 L1276.0,275.5 L1276.7,275.5 L1277.5,275.4 L1278.2,275.4 L1279.0,275.4 L1279.8,275.4 L1280.5,275.4 L1281.3,275.3 L1282.0,275.3 L1282.8,275.3 L1283.6,275.3 L1284.3,275.3 L1285.1,275.2 L1285.9,275.2 L1286.6,275.2 L1287.4,275.2 L1288.1,275.1 L1288.9,275.1 L1289.7,275.1 L1290.4,275.1 L1291.2,275.1 L1291.9,275.0 L1292.7,275.0 L1293.5,275.0 L1294.2,275.0 L1295.0,274.9 L1295.8,274.9 L1296.5,274.9 L1297.3,274.9 L1298.0,274.8 L1298.8,274.8 L1299.6,274.8 L1300.3,274.8 L1301.1,274.7 L1301.9,274.7 L1302.6,274.7 L1303.4,274.7 L1304.1,274.6 L1304.9,274.6 L1305.7,274.6 L1306.4,274.5 L1307.2,274.5 L1307.9,274.5 L1308.7,274.5 L1309.5,274.4 L1310.2,274.4 L1311.0,274.4 L1311.8,274.3 L1312.5,274.3 L1313.3,274.3 L1314.0,274.2 L1314.8,274.2 L1315.6,274.2 L1316.3,274.1 L1317.1,274.1 L1317.8,274.1 L1318.6,274.0 L1319.4,274.0 L1320.1,274.0 L1320.9,273.9 L1321.7,273.9 L1322.4,273.9 L1323.2,273.8 L1323.9,273.8 L1324.7,273.7 L1325.5,273.7 L1326.2,273.7 L1327.0,273.6 L1327.8,273.6 L1328.5,273.5 L1329.3,273.5 L1330.0,273.4 L1330.8,273.4 L1331.6,273.4 L1332.3,273.3 L1333.1,273.3 L1333.8,273.2 L1334.6,273.2 L1335.4,273.1 L1336.1,273.1 L1336.9,273.0 L1337.7,273.0 L1338.4,272.9 L1339.2,272.9 L1339.9,272.8 L1340.7,272.8 L1341.5,272.7 L1342.2,272.7 L1343.0,272.6 L1343.7,272.6 L1344.5,272.5 L1345.3,272.4 L1346.0,272.4 L1346.8,272.3 L1347.6,272.3 L1348.3,272.2 L1349.1,272.1 L1349.8,272.1 L1350.6,272.0 L1351.4,271.9 L1352.1,271.9 L1352.9,271.8 L1353.7,271.7 L1354.4,271.7 L1355.2,271.6 L1355.9,271.5 L1356.7,271.5 L1357.5,271.4 L1358.2,271.3 L1359.0,271.2 L1359.7,271.1 L1360.5,271.1 L1361.3,271.0 L1362.0,270.9 L1362.8,270.8 L1363.6,270.7 L1364.3,270.6 L1365.1,270.6 L1365.8,270.5 L1366.6,270.4 L1367.4,270.3 L1368.1,270.2 L1368.9,270.1 L1369.6,270.0 L1370.4,269.9 L1371.2,269.8 L1371.9,269.7 L1372.7,269.6 L1373.5,269.5 L1374.2,269.4 L1375.0,269.2 L1375.7,269.1 L1376.5,269.0 L1377.3,268.9 L1378.0,268.8 L1378.8,268.6 L1379.6,268.5 L1380.3,268.4 L1381.1,268.3 L1381.8,268.1 L1382.6,268.0 L1383.4,267.8 L1384.1,267.7 L1384.9,267.6 L1385.6,267.4 L1386.4,267.2 L1387.2,267.1 L1387.9,266.9 L1388.7,266.8 L1389.5,266.6 L1390.2,266.4 L1391.0,266.3 L1391.7,266.1 L1392.5,265.9 L1393.3,265.7 L1394.0,265.5 L1394.8,265.3 L1395.5,265.1 L1396.3,264.9 L1397.1,264.7 L1397.8,264.5 L1398.6,264.3 L1399.4,264.1 L1400.1,263.8 L1400.9,263.6 L1401.6,263.4 L1402.4,263.1 L1403.2,262.9 L1403.9,262.6 L1404.7,262.4 L1405.5,262.1 L1406.2,261.8 L1407.0,261.5 L1407.7,261.2 L1408.5,260.9 L1409.3,260.6 L1410.0,260.3 L1410.8,260.0 L1411.5,259.7 L1412.3,259.3 L1413.1,259.0 L1413.8,258.6 L1414.6,258.3 L1415.4,257.9 L1416.1,257.5 L1416.9,257.1 L1417.6,256.7 L1418.4,256.2 L1419.2,255.8 L1419.9,255.4 L1420.7,254.9 L1421.4,254.4 L1422.2,253.9 L1423.0,253.4 L1423.7,252.9 L1424.5,252.4 L1425.3,251.8 L1426.0,251.3 L1426.8,250.7 L1427.5,250.1 L1428.3,249.4 L1429.1,248.8 L1429.8,248.1 L1430.6,247.5 L1431.4,246.7 L1432.1,246.0 L1432.9,245.3 L1433.6,244.5 L1434.4,243.7 L1435.2,242.8 L1435.9,242.0 L1436.7,241.1 L1437.4,240.2 L1438.2,239.2 L1439.0,238.2 L1439.7,237.2 L1440.5,236.1 L1441.3,235.0 L1442.0,233.9 L1442.8,232.7 L1443.5,231.5 L1444.3,230.2 L1445.1,228.9 L1445.8,227.5 L1446.6,226.1 L1447.3,224.6 L1448.1,223.1 L1448.9,221.5 L1449.6,219.9 L1450.4,218.2 L1451.2,216.4 L1451.9,214.6 L1452.7,212.7 L1453.4,210.7 L1454.2,208.7 L1455.0,206.5 L1455.7,204.3 L1456.5,202.0 L1457.3,199.6 L1458.0,197.2 L1458.8,194.6 L1459.5,191.9 L1460.3,189.2 L1461.1,186.3 L1461.8,183.4 L1462.6,180.3 L1463.3,177.2 L1464.1,174.0 L1464.9,170.6 L1465.6,167.2 L1466.4,163.6 L1467.2,160.0 L1467.9,156.2 L1468.7,152.4 L1469.4,148.5 L1470.2,144.6 L1471.0,140.5 L1471.7,136.4 L1472.5,132.3 L1473.2,128.2 L1474.0,124.1 L1474.8,119.9 L1475.5,115.8 L1476.3,111.8 L1477.1,107.9 L1477.8,104.0 L1478.6,100.4 L1479.3,96.8 L1480.1,93.5 L1480.9,90.4 L1481.6,87.6 L1482.4,85.0 L1483.2,82.8 L1483.9,80.9 L1484.7,79.4 L1485.4,78.2 L1486.2,77.4 L1487.0,77.1 L1487.7,77.1 L1488.5,77.5 L1489.2,78.3 L1490.0,79.6 L1490.8,81.2 L1491.5,83.1 L1492.3,85.4 L1493.1,88.0 L1493.8,90.9 L1494.6,94.0 L1495.3,97.3 L1496.1,100.9 L1496.9,104.6 L1497.6,108.5 L1498.4,112.4 L1499.1,116.5 L1499.9,120.5 L1500.7,124.7 L1501.4,128.8 L1502.2,133.0 L1503.0,137.1 L1503.7,141.1 L1504.5,145.2 L1505.2,149.1 L1506.0,153.0 L1506.8,156.8 L1507.5,160.5 L1508.3,164.1 L1509.1,167.7 L1509.8,171.1 L1510.6,174.4 L1511.3,177.7 L1512.1,180.8 L1512.9,183.8 L1513.6,186.8 L1514.4,189.6 L1515.1,192.3 L1515.9,195.0 L1516.7,197.5 L1517.4,200.0 L1518.2,202.4 L1519.0,204.6 L1519.7,206.8 L1520.5,209.0 L1521.2,211.0 L1522.0,213.0 L1522.8,214.9 L1523.5,216.7 L1524.3,218.5 L1525.0,220.1 L1525.8,221.8 L1526.6,223.4 L1527.3,224.9 L1528.1,226.3 L1528.9,227.7 L1529.6,229.1 L1530.4,230.4 L1531.1,231.7 L1531.9,232.9 L1532.7,234.1 L1533.4,235.2 L1534.2,236.3 L1535.0,237.3 L1535.7,238.4 L1536.5,239.3 L1537.2,240.3 L1538.0,241.2 L1538.8,242.1 L1539.5,243.0 L1540.3,243.8 L1541.0,244.6 L1541.8,245.4 L1542.6,246.1 L1543.3,246.9 L1544.1,247.6 L1544.9,248.2 L1545.6,248.9 L1546.4,249.5 L1547.1,250.2 L1547.9,250.8 L1548.7,251.3 L1549.4,251.9 L1550.2,252.5 L1550.9,253.0 L1551.7,253.5 L1552.5,254.0 L1553.2,254.5 L1554.0,255.0 L1554.8,255.4 L1555.5,255.9 L1556.3,256.3 L1557.0,256.7 L1557.8,257.1 L1558.6,257.5 L1559.3,257.9 L1560.1,258.3 L1560.9,258.7 L1561.6,259.0 L1562.4,259.4 L1563.1,259.7 L1563.9,260.0 L1564.7,260.4 L1565.4,260.7 L1566.2,261.0 L1566.9,261.3 L1567.7,261.6 L1568.5,261.9 L1569.2,262.1 L1570.0,262.4 L1570.8,262.7 L1571.5,262.9 L1572.3,263.2 L1573.0,263.4 L1573.8,263.7 L1574.6,263.9 L1575.3,264.1 L1576.1,264.3 L1576.8,264.5 L1577.6,264.8 L1578.4,265.0 L1579.1,265.2 L1579.9,265.4 L1580.7,265.6 L1581.4,265.7 L1582.2,265.9 L1582.9,266.1 L1583.7,266.3 L1584.5,266.5 L1585.2,266.6 L1586.0,266.8 L1586.8,267.0 L1587.5,267.1 L1588.3,267.3 L1589.0,267.4 L1589.8,267.6 L1590.6,267.7 L1591.3,267.9 L1592.1,268.0 L1592.8,268.1 L1593.6,268.3 L1594.4,268.4 L1595.1,268.5 L1595.9,268.7 L1596.7,268.8 L1597.4,268.9 L1598.2,269.0 L1598.9,269.1 L1599.7,269.3 L1600.5,269.4 L1601.2,269.5 L1602.0,269.6 L1602.7,269.7 L1603.5,269.8 L1604.3,269.9 L1605.0,270.0 L1605.8,270.1 L1606.6,270.2 L1607.3,270.3 L1608.1,270.4 L1608.8,270.5 L1609.6,270.6 L1610.4,270.7 L1611.1,270.7 L1611.9,270.8 L1612.7,270.9 L1613.4,271.0 L1614.2,271.1 L1614.9,271.2 L1615.7,271.2 L1616.5,271.3 L1617.2,271.4 L1618.0,271.5 L1618.7,271.5 L1619.5,271.6 L1620.3,271.7 L1621.0,271.8 L1621.8,271.8 L1622.6,271.9 L1623.3,272.0 L1624.1,272.0 L1624.8,272.1 L1625.6,272.1 L1626.4,272.2 L1627.1,272.3 L1627.9,272.3 L1628.6,272.4 L1629.4,272.5 L1630.2,272.5 L1630.9,272.6 L1631.7,272.6 L1632.5,272.7 L1633.2,272.7 L1634.0,272.8 L1634.7,272.8 L1635.5,272.9 L1636.3,272.9 L1637.0,273.0 L1637.8,273.0 L1638.6,273.1 L1639.3,273.1 L1640.1,273.2 L1640.8,273.2 L1641.6,273.3 L1642.4,273.3 L1643.1,273.4 L1643.9,273.4 L1644.6,273.5 L1645.4,273.5 L1646.2,273.5 L1646.9,273.6 L1647.7,273.6 L1648.5,273.7 L1649.2,273.7 L1650.0,273.7 L1650.7,273.8 L1651.5,273.8 L1652.3,273.9 L1653.0,273.9 L1653.8,273.9 L1654.5,274.0 L1655.3,274.0 L1656.1,274.0 L1656.8,274.1 L1657.6,274.1 L1658.4,274.1 L1659.1,274.2 L1659.9,274.2 L1660.6,274.2 L1661.4,274.3 L1662.2,274.3 L1662.9,274.3 L1663.7,274.4 L1664.5,274.4 L1665.2,274.4 L1666.0,274.5 L1666.7,274.5 L1667.5,274.5 L1668.3,274.6 L1669.0,274.6 L1669.8,274.6 L1670.5,274.6 L1671.3,274.7 L1672.1,274.7 L1672.8,274.7 L1673.6,274.7 L1674.4,274.8 L1675.1,274.8 L1675.9,274.8 L1676.6,274.8 L1677.4,274.9 L1678.2,274.9 L1678.9,274.9 L1679.7,274.9 L1680.4,275.0 L1681.2,275.0 L1682.0,275.0 L1682.7,275.0 L1683.5,275.1 L1684.3,275.1 L1685.0,275.1 L1685.8,275.1 L1686.5,275.2 L1687.3,275.2 L1688.1,275.2 L1688.8,275.2 L1689.6,275.2 L1690.4,275.3 L1691.1,275.3 L1691.9,275.3 L1692.6,275.3 L1693.4,275.3 L1694.2,275.4 L1694.9,275.4 L1695.7,275.4 L1696.4,275.4 L1697.2,275.4 L1698.0,275.5 L1698.7,275.5 L1699.5,275.5 L1700.3,275.5 L1701.0,275.5 L1701.8,275.5 L1702.5,275.6 L1703.3,275.6 L1704.1,275.6 L1704.8,275.6 L1705.6,275.6 L1706.3,275.6 L1707.1,275.7 L1707.9,275.7 L1708.6,275.7 L1709.4,275.7 L1710.2,275.7 L1710.9,275.7 L1711.7,275.8 L1712.4,275.8 L1713.2,275.8 L1714.0,275.8 L1714.7,275.8 L1715.5,275.8 L1716.3,275.8 L1717.0,275.9 L1717.8,275.9 L1718.5,275.9 L1719.3,275.9" fill="none" stroke="#eac468" stroke-opacity="0.8" stroke-width="4.3"/>
<path d="M1263.0,277.2 L1263.8,277.2 L1264.5,277.2 L1265.3,277.2 L1266.0,277.2 L1266.8,277.2 L1267.6,277.1 L1268.3,277.1 L1269.1,277.1 L1269.9,277.1 L1270.6,277.1 L1271.4,277.1 L1272.1,277.1 L1272.9,277.0 L1273.7,277.0 L1274.4,277.0 L1275.2,277.0 L1276.0,277.0 L1276.7,277.0 L1277.5,276.9 L1278.2,276.9 L1279.0,276.9 L1279.8,276.9 L1280.5,276.9 L1281.3,276.9 L1282.0,276.8 L1282.8,276.8 L1283.6,276.8 L1284.3,276.8 L1285.1,276.8 L1285.9,276.8 L1286.6,276.7 L1287.4,276.7 L1288.1,276.7 L1288.9,276.7 L1289.7,276.7 L1290.4,276.6 L1291.2,276.6 L1291.9,276.6 L1292.7,276.6 L1293.5,276.6 L1294.2,276.5 L1295.0,276.5 L1295.8,276.5 L1296.5,276.5 L1297.3,276.5 L1298.0,276.4 L1298.8,276.4 L1299.6,276.4 L1300.3,276.4 L1301.1,276.3 L1301.9,276.3 L1302.6,276.3 L1303.4,276.3 L1304.1,276.2 L1304.9,276.2 L1305.7,276.2 L1306.4,276.2 L1307.2,276.1 L1307.9,276.1 L1308.7,276.1 L1309.5,276.1 L1310.2,276.0 L1311.0,276.0 L1311.8,276.0 L1312.5,276.0 L1313.3,275.9 L1314.0,275.9 L1314.8,275.9 L1315.6,275.8 L1316.3,275.8 L1317.1,275.8 L1317.8,275.8 L1318.6,275.7 L1319.4,275.7 L1320.1,275.7 L1320.9,275.6 L1321.7,275.6 L1322.4,275.6 L1323.2,275.5 L1323.9,275.5 L1324.7,275.5 L1325.5,275.4 L1326.2,275.4 L1327.0,275.4 L1327.8,275.3 L1328.5,275.3 L1329.3,275.2 L1330.0,275.2 L1330.8,275.2 L1331.6,275.1 L1332.3,275.1 L1333.1,275.0 L1333.8,275.0 L1334.6,275.0 L1335.4,274.9 L1336.1,274.9 L1336.9,274.8 L1337.7,274.8 L1338.4,274.8 L1339.2,274.7 L1339.9,274.7 L1340.7,274.6 L1341.5,274.6 L1342.2,274.5 L1343.0,274.5 L1343.7,274.4 L1344.5,274.4 L1345.3,274.3 L1346.0,274.3 L1346.8,274.2 L1347.6,274.2 L1348.3,274.1 L1349.1,274.1 L1349.8,274.0 L1350.6,273.9 L1351.4,273.9 L1352.1,273.8 L1352.9,273.8 L1353.7,273.7 L1354.4,273.6 L1355.2,273.6 L1355.9,273.5 L1356.7,273.4 L1357.5,273.4 L1358.2,273.3 L1359.0,273.2 L1359.7,273.2 L1360.5,273.1 L1361.3,273.0 L1362.0,273.0 L1362.8,272.9 L1363.6,272.8 L1364.3,272.7 L1365.1,272.7 L1365.8,272.6 L1366.6,272.5 L1367.4,272.4 L1368.1,272.3 L1368.9,272.2 L1369.6,272.2 L1370.4,272.1 L1371.2,272.0 L1371.9,271.9 L1372.7,271.8 L1373.5,271.7 L1374.2,271.6 L1375.0,271.5 L1375.7,271.4 L1376.5,271.3 L1377.3,271.2 L1378.0,271.1 L1378.8,271.0 L1379.6,270.8 L1380.3,270.7 L1381.1,270.6 L1381.8,270.5 L1382.6,270.4 L1383.4,270.2 L1384.1,270.1 L1384.9,270.0 L1385.6,269.9 L1386.4,269.7 L1387.2,269.6 L1387.9,269.4 L1388.7,269.3 L1389.5,269.2 L1390.2,269.0 L1391.0,268.8 L1391.7,268.7 L1392.5,268.5 L1393.3,268.4 L1394.0,268.2 L1394.8,268.0 L1395.5,267.8 L1396.3,267.7 L1397.1,267.5 L1397.8,267.3 L1398.6,267.1 L1399.4,266.9 L1400.1,266.7 L1400.9,266.5 L1401.6,266.3 L1402.4,266.1 L1403.2,265.8 L1403.9,265.6 L1404.7,265.4 L1405.5,265.1 L1406.2,264.9 L1407.0,264.6 L1407.7,264.4 L1408.5,264.1 L1409.3,263.8 L1410.0,263.6 L1410.8,263.3 L1411.5,263.0 L1412.3,262.7 L1413.1,262.4 L1413.8,262.0 L1414.6,261.7 L1415.4,261.4 L1416.1,261.0 L1416.9,260.7 L1417.6,260.3 L1418.4,259.9 L1419.2,259.5 L1419.9,259.1 L1420.7,258.7 L1421.4,258.3 L1422.2,257.9 L1423.0,257.4 L1423.7,257.0 L1424.5,256.5 L1425.3,256.0 L1426.0,255.5 L1426.8,255.0 L1427.5,254.4 L1428.3,253.9 L1429.1,253.3 L1429.8,252.7 L1430.6,252.1 L1431.4,251.5 L1432.1,250.8 L1432.9,250.1 L1433.6,249.4 L1434.4,248.7 L1435.2,248.0 L1435.9,247.2 L1436.7,246.4 L1437.4,245.6 L1438.2,244.8 L1439.0,243.9 L1439.7,243.0 L1440.5,242.0 L1441.3,241.1 L1442.0,240.1 L1442.8,239.0 L1443.5,237.9 L1444.3,236.8 L1445.1,235.7 L1445.8,234.5 L1446.6,233.2 L1447.3,232.0 L1448.1,230.6 L1448.9,229.2 L1449.6,227.8 L1450.4,226.3 L1451.2,224.8 L1451.9,223.2 L1452.7,221.6 L1453.4,219.9 L1454.2,218.1 L1455.0,216.3 L1455.7,214.4 L1456.5,212.5 L1457.3,210.5 L1458.0,208.4 L1458.8,206.2 L1459.5,204.0 L1460.3,201.7 L1461.1,199.4 L1461.8,197.0 L1462.6,194.5 L1463.3,191.9 L1464.1,189.3 L1464.9,186.6 L1465.6,183.9 L1466.4,181.1 L1467.2,178.3 L1467.9,175.4 L1468.7,172.5 L1469.4,169.6 L1470.2,166.6 L1471.0,163.6 L1471.7,160.7 L1472.5,157.7 L1473.2,154.8 L1474.0,152.0 L1474.8,149.2 L1475.5,146.4 L1476.3,143.8 L1477.1,141.3 L1477.8,139.0 L1478.6,136.7 L1479.3,134.7 L1480.1,132.9 L1480.9,131.2 L1481.6,129.8 L1482.4,128.7 L1483.2,127.8 L1483.9,127.1 L1484.7,126.7 L1485.4,126.6 L1486.2,126.8 L1487.0,127.2 L1487.7,127.9 L1488.5,128.8 L1489.2,130.0 L1490.0,131.5 L1490.8,133.1 L1491.5,135.0 L1492.3,137.1 L1493.1,139.3 L1493.8,141.7 L1494.6,144.2 L1495.3,146.8 L1496.1,149.6 L1496.9,152.4 L1497.6,155.3 L1498.4,158.2 L1499.1,161.1 L1499.9,164.1 L1500.7,167.0 L1501.4,170.0 L1502.2,172.9 L1503.0,175.8 L1503.7,178.7 L1504.5,181.5 L1505.2,184.3 L1506.0,187.0 L1506.8,189.7 L1507.5,192.3 L1508.3,194.9 L1509.1,197.3 L1509.8,199.7 L1510.6,202.1 L1511.3,204.4 L1512.1,206.6 L1512.9,208.7 L1513.6,210.8 L1514.4,212.8 L1515.1,214.7 L1515.9,216.6 L1516.7,218.4 L1517.4,220.1 L1518.2,221.8 L1519.0,223.5 L1519.7,225.0 L1520.5,226.6 L1521.2,228.0 L1522.0,229.5 L1522.8,230.8 L1523.5,232.2 L1524.3,233.4 L1525.0,234.7 L1525.8,235.9 L1526.6,237.0 L1527.3,238.1 L1528.1,239.2 L1528.9,240.2 L1529.6,241.2 L1530.4,242.2 L1531.1,243.1 L1531.9,244.0 L1532.7,244.9 L1533.4,245.7 L1534.2,246.5 L1535.0,247.3 L1535.7,248.1 L1536.5,248.8 L1537.2,249.5 L1538.0,250.2 L1538.8,250.9 L1539.5,251.6 L1540.3,252.2 L1541.0,252.8 L1541.8,253.4 L1542.6,253.9 L1543.3,254.5 L1544.1,255.0 L1544.9,255.6 L1545.6,256.1 L1546.4,256.5 L1547.1,257.0 L1547.9,257.5 L1548.7,257.9 L1549.4,258.4 L1550.2,258.8 L1550.9,259.2 L1551.7,259.6 L1552.5,260.0 L1553.2,260.4 L1554.0,260.7 L1554.8,261.1 L1555.5,261.4 L1556.3,261.8 L1557.0,262.1 L1557.8,262.4 L1558.6,262.7 L1559.3,263.0 L1560.1,263.3 L1560.9,263.6 L1561.6,263.9 L1562.4,264.2 L1563.1,264.4 L1563.9,264.7 L1564.7,264.9 L1565.4,265.2 L1566.2,265.4 L1566.9,265.6 L1567.7,265.9 L1568.5,266.1 L1569.2,266.3 L1570.0,266.5 L1570.8,266.7 L1571.5,266.9 L1572.3,267.1 L1573.0,267.3 L1573.8,267.5 L1574.6,267.7 L1575.3,267.9 L1576.1,268.1 L1576.8,268.2 L1577.6,268.4 L1578.4,268.6 L1579.1,268.7 L1579.9,268.9 L1580.7,269.0 L1581.4,269.2 L1582.2,269.3 L1582.9,269.5 L1583.7,269.6 L1584.5,269.7 L1585.2,269.9 L1586.0,270.0 L1586.8,270.1 L1587.5,270.3 L1588.3,270.4 L1589.0,270.5 L1589.8,270.6 L1590.6,270.7 L1591.3,270.9 L1592.1,271.0 L1592.8,271.1 L1593.6,271.2 L1594.4,271.3 L1595.1,271.4 L1595.9,271.5 L1596.7,271.6 L1597.4,271.7 L1598.2,271.8 L1598.9,271.9 L1599.7,272.0 L1600.5,272.1 L1601.2,272.2 L1602.0,272.3 L1602.7,272.3 L1603.5,272.4 L1604.3,272.5 L1605.0,272.6 L1605.8,272.7 L1606.6,272.7 L1607.3,272.8 L1608.1,272.9 L1608.8,273.0 L1609.6,273.0 L1610.4,273.1 L1611.1,273.2 L1611.9,273.3 L1612.7,273.3 L1613.4,273.4 L1614.2,273.5 L1614.9,273.5 L1615.7,273.6 L1616.5,273.6 L1617.2,273.7 L1618.0,273.8 L1618.7,273.8 L1619.5,273.9 L1620.3,273.9 L1621.0,274.0 L1621.8,274.1 L1622.6,274.1 L1623.3,274.2 L1624.1,274.2 L1624.8,274.3 L1625.6,274.3 L1626.4,274.4 L1627.1,274.4 L1627.9,274.5 L1628.6,274.5 L1629.4,274.6 L1630.2,274.6 L1630.9,274.7 L1631.7,274.7 L1632.5,274.8 L1633.2,274.8 L1634.0,274.8 L1634.7,274.9 L1635.5,274.9 L1636.3,275.0 L1637.0,275.0 L1637.8,275.1 L1638.6,275.1 L1639.3,275.1 L1640.1,275.2 L1640.8,275.2 L1641.6,275.2 L1642.4,275.3 L1643.1,275.3 L1643.9,275.4 L1644.6,275.4 L1645.4,275.4 L1646.2,275.5 L1646.9,275.5 L1647.7,275.5 L1648.5,275.6 L1649.2,275.6 L1650.0,275.6 L1650.7,275.7 L1651.5,275.7 L1652.3,275.7 L1653.0,275.8 L1653.8,275.8 L1654.5,275.8 L1655.3,275.8 L1656.1,275.9 L1656.8,275.9 L1657.6,275.9 L1658.4,276.0 L1659.1,276.0 L1659.9,276.0 L1660.6,276.0 L1661.4,276.1 L1662.2,276.1 L1662.9,276.1 L1663.7,276.1 L1664.5,276.2 L1665.2,276.2 L1666.0,276.2 L1666.7,276.2 L1667.5,276.3 L1668.3,276.3 L1669.0,276.3 L1669.8,276.3 L1670.5,276.4 L1671.3,276.4 L1672.1,276.4 L1672.8,276.4 L1673.6,276.5 L1674.4,276.5 L1675.1,276.5 L1675.9,276.5 L1676.6,276.5 L1677.4,276.6 L1678.2,276.6 L1678.9,276.6 L1679.7,276.6 L1680.4,276.6 L1681.2,276.7 L1682.0,276.7 L1682.7,276.7 L1683.5,276.7 L1684.3,276.7 L1685.0,276.8 L1685.8,276.8 L1686.5,276.8 L1687.3,276.8 L1688.1,276.8 L1688.8,276.8 L1689.6,276.9 L1690.4,276.9 L1691.1,276.9 L1691.9,276.9 L1692.6,276.9 L1693.4,276.9 L1694.2,277.0 L1694.9,277.0 L1695.7,277.0 L1696.4,277.0 L1697.2,277.0 L1698.0,277.0 L1698.7,277.1 L1699.5,277.1 L1700.3,277.1 L1701.0,277.1 L1701.8,277.1 L1702.5,277.1 L1703.3,277.1 L1704.1,277.2 L1704.8,277.2 L1705.6,277.2 L1706.3,277.2 L1707.1,277.2 L1707.9,277.2 L1708.6,277.2 L1709.4,277.3 L1710.2,277.3 L1710.9,277.3 L1711.7,277.3 L1712.4,277.3 L1713.2,277.3 L1714.0,277.3 L1714.7,277.3 L1715.5,277.4 L1716.3,277.4 L1717.0,277.4 L1717.8,277.4 L1718.5,277.4 L1719.3,277.4" fill="none" stroke="#9233f4" stroke-opacity="0.8" stroke-width="4.3"/>
<path d="M1263.0,313.3 L1263.6,313.3 L1264.1,313.4 L1264.7,313.4 L1265.3,313.4 L1265.9,313.4 L1266.4,313.5 L1267.0,313.5 L1267.6,313.5 L1268.1,313.6 L1268.7,313.6 L1269.3,313.6 L1269.9,313.6 L1270.4,313.7 L1271.0,313.7 L1271.6,313.7 L1272.1,313.8 L1272.7,313.8 L1273.3,313.8 L1273.9,313.9 L1274.4,313.9 L1275.0,313.9 L1275.6,313.9 L1276.1,314.0 L1276.7,314.0 L1277.3,314.0 L1277.8,314.1 L1278.4,314.1 L1279.0,314.1 L1279.6,314.2 L1280.1,314.2 L1280.7,314.2 L1281.3,314.3 L1281.8,314.3 L1282.4,314.3 L1283.0,314.4 L1283.6,314.4 L1284.1,314.4 L1284.7,314.5 L1285.3,314.5 L1285.8,314.5 L1286.4,314.6 L1287.0,314.6 L1287.6,314.6 L1288.1,314.7 L1288.7,314.7 L1289.3,314.8 L1289.8,314.8 L1290.4,314.8 L1291.0,314.9 L1291.6,314.9 L1292.1,314.9 L1292.7,315.0 L1293.3,315.0 L1293.8,315.1 L1294.4,315.1 L1295.0,315.1 L1295.6,315.2 L1296.1,315.2 L1296.7,315.2 L1297.3,315.3 L1297.8,315.3 L1298.4,315.4 L1299.0,315.4 L1299.5,315.4 L1300.1,315.5 L1300.7,315.5 L1301.3,315.6 L1301.8,315.6 L1302.4,315.7 L1303.0,315.7 L1303.5,315.7 L1304.1,315.8 L1304.7,315.8 L1305.3,315.9 L1305.8,315.9 L1306.4,316.0 L1307.0,316.0 L1307.5,316.0 L1308.1,316.1 L1308.7,316.1 L1309.3,316.2 L1309.8,316.2 L1310.4,316.3 L1311.0,316.3 L1311.5,316.4 L1312.1,316.4 L1312.7,316.5 L1313.3,316.5 L1313.8,316.6 L1314.4,316.6 L1315.0,316.6 L1315.5,316.7 L1316.1,316.7 L1316.7,316.8 L1317.3,316.8 L1317.8,316.9 L1318.4,316.9 L1319.0,317.0 L1319.5,317.0 L1320.1,317.1 L1320.7,317.2 L1321.3,317.2 L1321.8,317.3 L1322.4,317.3 L1323.0,317.4 L1323.5,317.4 L1324.1,317.5 L1324.7,317.5 L1325.2,317.6 L1325.8,317.6 L1326.4,317.7 L1327.0,317.7 L1327.5,317.8 L1328.1,317.9 L1328.7,317.9 L1329.2,318.0 L1329.8,318.0 L1330.4,318.1 L1331.0,318.1 L1331.5,318.2 L1332.1,318.3 L1332.7,318.3 L1333.2,318.4 L1333.8,318.4 L1334.4,318.5 L1335.0,318.6 L1335.5,318.6 L1336.1,318.7 L1336.7,318.8 L1337.2,318.8 L1337.8,318.9 L1338.4,318.9 L1339.0,319.0 L1339.5,319.1 L1340.1,319.1 L1340.7,319.2 L1341.2,319.3 L1341.8,319.3 L1342.4,319.4 L1343.0,319.5 L1343.5,319.5 L1344.1,319.6 L1344.7,319.7 L1345.2,319.8 L1345.8,319.8 L1346.4,319.9 L1347.0,320.0 L1347.5,320.0 L1348.1,320.1 L1348.7,320.2 L1349.2,320.3 L1349.8,320.3 L1350.4,320.4 L1350.9,320.5 L1351.5,320.5 L1352.1,320.6 L1352.7,320.7 L1353.2,320.8 L1353.8,320.9 L1354.4,320.9 L1354.9,321.0 L1355.5,321.1 L1356.1,321.2 L1356.7,321.2 L1357.2,321.3 L1357.8,321.4 L1358.4,321.5 L1358.9,321.6 L1359.5,321.7 L1360.1,321.7 L1360.7,321.8 L1361.2,321.9 L1361.8,322.0 L1362.4,322.1 L1362.9,322.2 L1363.5,322.2 L1364.1,322.3 L1364.7,322.4 L1365.2,322.5 L1365.8,322.6 L1366.4,322.7 L1366.9,322.8 L1367.5,322.9 L1368.1,323.0 L1368.7,323.1 L1369.2,323.1 L1369.8,323.2 L1370.4,323.3 L1370.9,323.4 L1371.5,323.5 L1372.1,323.6 L1372.6,323.7 L1373.2,323.8 L1373.8,323.9 L1374.4,324.0 L1374.9,324.1 L1375.5,324.2 L1376.1,324.3 L1376.6,324.4 L1377.2,324.5 L1377.8,324.6 L1378.4,324.7 L1378.9,324.8 L1379.5,324.9 L1380.1,325.0 L1380.6,325.1 L1381.2,325.2 L1381.8,325.3 L1382.4,325.5 L1382.9,325.6 L1383.5,325.7 L1384.1,325.8 L1384.6,325.9 L1385.2,326.0 L1385.8,326.1 L1386.4,326.2 L1386.9,326.3 L1387.5,326.5 L1388.1,326.6 L1388.6,326.7 L1389.2,326.8 L1389.8,326.9 L1390.4,327.0 L1390.9,327.1 L1391.5,327.3 L1392.1,327.4 L1392.6,327.5 L1393.2,327.6 L1393.8,327.7 L1394.4,327.9 L1394.9,328.0 L1395.5,328.1 L1396.1,328.2 L1396.6,328.3 L1397.2,328.5 L1397.8,328.6 L1398.3,328.7 L1398.9,328.8 L1399.5,329.0 L1400.1,329.1 L1400.6,329.2 L1401.2,329.3 L1401.8,329.5 L1402.3,329.6 L1402.9,329.7 L1403.5,329.9 L1404.1,330.0 L1404.6,330.1 L1405.2,330.2 L1405.8,330.4 L1406.3,330.5 L1406.9,330.6 L1407.5,330.7 L1408.1,330.9 L1408.6,331.0 L1409.2,331.1 L1409.8,331.3 L1410.3,331.4 L1410.9,331.5 L1411.5,331.6 L1412.1,331.8 L1412.6,331.9 L1413.2,332.0 L1413.8,332.2 L1414.3,332.3 L1414.9,332.4 L1415.5,332.5 L1416.1,332.6 L1416.6,332.8 L1417.2,332.9 L1417.8,333.0 L1418.3,333.1 L1418.9,333.2 L1419.5,333.4 L1420.0,333.5 L1420.6,333.6 L1421.2,333.7 L1421.8,333.8 L1422.3,333.9 L1422.9,334.0 L1423.5,334.1 L1424.0,334.2 L1424.6,334.3 L1425.2,334.4 L1425.8,334.5 L1426.3,334.5 L1426.9,334.6 L1427.5,334.7 L1428.0,334.8 L1428.6,334.8 L1429.2,334.9 L1429.8,335.0 L1430.3,335.0 L1430.9,335.0 L1431.5,335.1 L1432.0,335.1 L1432.6,335.1 L1433.2,335.2 L1433.8,335.2 L1434.3,335.2 L1434.9,335.1 L1435.5,335.1 L1436.0,335.1 L1436.6,335.1 L1437.2,335.0 L1437.8,334.9 L1438.3,334.9 L1438.9,334.8 L1439.5,334.7 L1440.0,334.5 L1440.6,334.4 L1441.2,334.2 L1441.8,334.1 L1442.3,333.9 L1442.9,333.7 L1443.5,333.4 L1444.0,333.2 L1444.6,332.9 L1445.2,332.6 L1445.7,332.3 L1446.3,331.9 L1446.9,331.5 L1447.5,331.1 L1448.0,330.6 L1448.6,330.1 L1449.2,329.6 L1449.7,329.0 L1450.3,328.4 L1450.9,327.8 L1451.5,327.1 L1452.0,326.4 L1452.6,325.6 L1453.2,324.7 L1453.7,323.8 L1454.3,322.9 L1454.9,321.8 L1455.5,320.8 L1456.0,319.6 L1456.6,318.4 L1457.2,317.1 L1457.7,315.7 L1458.3,314.2 L1458.9,312.7 L1459.5,311.1 L1460.0,309.3 L1460.6,307.5 L1461.2,305.6 L1461.7,303.5 L1462.3,301.4 L1462.9,299.1 L1463.5,296.7 L1464.0,294.2 L1464.6,291.6 L1465.2,288.8 L1465.7,285.9 L1466.3,282.9 L1466.9,279.7 L1467.4,276.4 L1468.0,272.9 L1468.6,269.3 L1469.2,265.5 L1469.7,261.6 L1470.3,257.6 L1470.9,253.4 L1471.4,249.0 L1472.0,244.6 L1472.6,239.9 L1473.2,235.2 L1473.7,230.3 L1474.3,225.4 L1474.9,220.3 L1475.4,215.1 L1476.0,209.9 L1476.6,204.6 L1477.2,199.3 L1477.7,193.9 L1478.3,188.5 L1478.9,183.1 L1479.4,177.7 L1480.0,172.4 L1480.6,167.2 L1481.2,162.0 L1481.7,157.0 L1482.3,152.0 L1482.9,147.3 L1483.4,142.6 L1484.0,138.2 L1484.6,134.0 L1485.2,130.0 L1485.7,126.2 L1486.3,122.6 L1486.9,119.3 L1487.4,116.3 L1488.0,113.5 L1488.6,110.9 L1489.2,108.7 L1489.7,106.7 L1490.3,104.9 L1490.9,103.4 L1491.4,102.2 L1492.0,101.2 L1492.6,100.4 L1493.1,99.9 L1493.7,99.6 L1494.3,99.5 L1494.9,99.5 L1495.4,99.8 L1496.0,100.2 L1496.6,100.8 L1497.1,101.6 L1497.7,102.5 L1498.3,103.5 L1498.9,104.6 L1499.4,105.8 L1500.0,107.1 L1500.6,108.6 L1501.1,110.0 L1501.7,111.6 L1502.3,113.2 L1502.9,114.9 L1503.4,116.6 L1504.0,118.3 L1504.6,120.1 L1505.1,121.9 L1505.7,123.7 L1506.3,125.6 L1506.9,127.4 L1507.4,129.3 L1508.0,131.1 L1508.6,133.0 L1509.1,134.8 L1509.7,136.7 L1510.3,138.5 L1510.9,140.4 L1511.4,142.2 L1512.0,144.0 L1512.6,145.8 L1513.1,147.5 L1513.7,149.3 L1514.3,151.0 L1514.9,152.7 L1515.4,154.4 L1516.0,156.1 L1516.6,157.7 L1517.1,159.4 L1517.7,161.0 L1518.3,162.5 L1518.8,164.1 L1519.4,165.6 L1520.0,167.1 L1520.6,168.6 L1521.1,170.0 L1521.7,171.5 L1522.3,172.9 L1522.8,174.3 L1523.4,175.6 L1524.0,177.0 L1524.6,178.3 L1525.1,179.6 L1525.7,180.8 L1526.3,182.1 L1526.8,183.3 L1527.4,184.5 L1528.0,185.7 L1528.6,186.9 L1529.1,188.0 L1529.7,189.1 L1530.3,190.2 L1530.8,191.3 L1531.4,192.4 L1532.0,193.4 L1532.6,194.5 L1533.1,195.5 L1533.7,196.5 L1534.3,197.4 L1534.8,198.4 L1535.4,199.3 L1536.0,200.3 L1536.6,201.2 L1537.1,202.1 L1537.7,202.9 L1538.3,203.8 L1538.8,204.6 L1539.4,205.5 L1540.0,206.3 L1540.5,207.1 L1541.1,207.9 L1541.7,208.7 L1542.3,209.4 L1542.8,210.2 L1543.4,210.9 L1544.0,211.7 L1544.5,212.4 L1545.1,213.1 L1545.7,213.8 L1546.3,214.5 L1546.8,215.1 L1547.4,215.8 L1548.0,216.4 L1548.5,217.1 L1549.1,217.7 L1549.7,218.3 L1550.3,218.9 L1550.8,219.5 L1551.4,220.1 L1552.0,220.7 L1552.5,221.3 L1553.1,221.8 L1553.7,222.4 L1554.3,222.9 L1554.8,223.5 L1555.4,224.0 L1556.0,224.5 L1556.5,225.1 L1557.1,225.6 L1557.7,226.1 L1558.3,226.5 L1558.8,227.0 L1559.4,227.5 L1560.0,228.0 L1560.5,228.4 L1561.1,228.9 L1561.7,229.4 L1562.3,229.8 L1562.8,230.2 L1563.4,230.7 L1564.0,231.1 L1564.5,231.5 L1565.1,231.9 L1565.7,232.3 L1566.2,232.7 L1566.8,233.1 L1567.4,233.5 L1568.0,233.9 L1568.5,234.3 L1569.1,234.7 L1569.7,235.0 L1570.2,235.4 L1570.8,235.8 L1571.4,236.1 L1572.0,236.5 L1572.5,236.8 L1573.1,237.2 L1573.7,237.5 L1574.2,237.8 L1574.8,238.2 L1575.4,238.5 L1576.0,238.8 L1576.5,239.1 L1577.1,239.5 L1577.7,239.8 L1578.2,240.1 L1578.8,240.4 L1579.4,240.7 L1580.0,241.0 L1580.5,241.3 L1581.1,241.5 L1581.7,241.8 L1582.2,242.1 L1582.8,242.4 L1583.4,242.7 L1584.0,242.9 L1584.5,243.2 L1585.1,243.5 L1585.7,243.7 L1586.2,244.0 L1586.8,244.2 L1587.4,244.5 L1587.9,244.7 L1588.5,245.0 L1589.1,245.2 L1589.7,245.5 L1590.2,245.7 L1590.8,245.9 L1591.4,246.2 L1591.9,246.4 L1592.5,246.6 L1593.1,246.9 L1593.7,247.1 L1594.2,247.3 L1594.8,247.5 L1595.4,247.7 L1595.9,248.0 L1596.5,248.2 L1597.1,248.4 L1597.7,248.6 L1598.2,248.8 L1598.8,249.0 L1599.4,249.2 L1599.9,249.4 L1600.5,249.6 L1601.1,249.8 L1601.7,250.0 L1602.2,250.1 L1602.8,250.3 L1603.4,250.5 L1603.9,250.7 L1604.5,250.9 L1605.1,251.1 L1605.7,251.2 L1606.2,251.4 L1606.8,251.6 L1607.4,251.8 L1607.9,251.9 L1608.5,252.1 L1609.1,252.3 L1609.7,252.4 L1610.2,252.6 L1610.8,252.8 L1611.4,252.9 L1611.9,253.1 L1612.5,253.2 L1613.1,253.4 L1613.6,253.6 L1614.2,253.7 L1614.8,253.9 L1615.4,254.0 L1615.9,254.2 L1616.5,254.3 L1617.1,254.4 L1617.6,254.6 L1618.2,254.7 L1618.8,254.9 L1619.4,255.0 L1619.9,255.2 L1620.5,255.3 L1621.1,255.4 L1621.6,255.6 L1622.2,255.7 L1622.8,255.8 L1623.4,256.0 L1623.9,256.1 L1624.5,256.2 L1625.1,256.4 L1625.6,256.5 L1626.2,256.6 L1626.8,256.7 L1627.4,256.9 L1627.9,257.0 L1628.5,257.1 L1629.1,257.2 L1629.6,257.3 L1630.2,257.5 L1630.8,257.6 L1631.4,257.7 L1631.9,257.8 L1632.5,257.9 L1633.1,258.0 L1633.6,258.1 L1634.2,258.2 L1634.8,258.4 L1635.3,258.5 L1635.9,258.6 L1636.5,258.7 L1637.1,258.8 L1637.6,258.9 L1638.2,259.0 L1638.8,259.1 L1639.3,259.2 L1639.9,259.3 L1640.5,259.4 L1641.1,259.5 L1641.6,259.6 L1642.2,259.7 L1642.8,259.8 L1643.3,259.9 L1643.9,260.0 L1644.5,260.1 L1645.1,260.2 L1645.6,260.3 L1646.2,260.4 L1646.8,260.5 L1647.3,260.6 L1647.9,260.6 L1648.5,260.7 L1649.1,260.8 L1649.6,260.9 L1650.2,261.0 L1650.8,261.1 L1651.3,261.2 L1651.9,261.3 L1652.5,261.3 L1653.1,261.4 L1653.6,261.5 L1654.2,261.6 L1654.8,261.7 L1655.3,261.8 L1655.9,261.8 L1656.5,261.9 L1657.1,262.0 L1657.6,262.1 L1658.2,262.2 L1658.8,262.2 L1659.3,262.3 L1659.9,262.4 L1660.5,262.5 L1661.0,262.5 L1661.6,262.6 L1662.2,262.7 L1662.8,262.8 L1663.3,262.8 L1663.9,262.9 L1664.5,263.0 L1665.0,263.0 L1665.6,263.1 L1666.2,263.2 L1666.8,263.3 L1667.3,263.3 L1667.9,263.4 L1668.5,263.5 L1669.0,263.5 L1669.6,263.6 L1670.2,263.7 L1670.8,263.7 L1671.3,263.8 L1671.9,263.9 L1672.5,263.9 L1673.0,264.0 L1673.6,264.1 L1674.2,264.1 L1674.8,264.2 L1675.3,264.2 L1675.9,264.3 L1676.5,264.4 L1677.0,264.4 L1677.6,264.5 L1678.2,264.5 L1678.8,264.6 L1679.3,264.7 L1679.9,264.7 L1680.5,264.8 L1681.0,264.8 L1681.6,264.9 L1682.2,265.0 L1682.8,265.0 L1683.3,265.1 L1683.9,265.1 L1684.5,265.2 L1685.0,265.2 L1685.6,265.3 L1686.2,265.3 L1686.7,265.4 L1687.3,265.4 L1687.9,265.5 L1688.5,265.6 L1689.0,265.6 L1689.6,265.7 L1690.2,265.7 L1690.7,265.8 L1691.3,265.8 L1691.9,265.9 L1692.5,265.9 L1693.0,266.0 L1693.6,266.0 L1694.2,266.1 L1694.7,266.1 L1695.3,266.2 L1695.9,266.2 L1696.5,266.3 L1697.0,266.3 L1697.6,266.3 L1698.2,266.4 L1698.7,266.4 L1699.3,266.5 L1699.9,266.5 L1700.5,266.6 L1701.0,266.6 L1701.6,266.7 L1702.2,266.7 L1702.7,266.8 L1703.3,266.8 L1703.9,266.8 L1704.5,266.9 L1705.0,266.9 L1705.6,267.0 L1706.2,267.0 L1706.7,267.1 L1707.3,267.1 L1707.9,267.1 L1708.4,267.2 L1709.0,267.2 L1709.6,267.3 L1710.2,267.3 L1710.7,267.3 L1711.3,267.4 L1711.9,267.4 L1712.4,267.5 L1713.0,267.5 L1713.6,267.5 L1714.2,267.6 L1714.7,267.6 L1715.3,267.7 L1715.9,267.7 L1716.4,267.7 L1717.0,267.8 L1717.6,267.8 L1718.2,267.8 L1718.7,267.9 L1719.3,267.9" fill="none" stroke="#585858" stroke-opacity="0.8" stroke-width="4.3" stroke-dasharray="6.3,12.9" stroke-linecap="round"/>
<path d="M1263.0,312.3 L1263.6,312.3 L1264.1,312.4 L1264.7,312.4 L1265.3,312.4 L1265.9,312.5 L1266.4,312.5 L1267.0,312.5 L1267.6,312.6 L1268.1,312.6 L1268.7,312.7 L1269.3,312.7 L1269.9,312.7 L1270.4,312.8 L1271.0,312.8 L1271.6,312.8 L1272.1,312.9 L1272.7,312.9 L1273.3,312.9 L1273.9,313.0 L1274.4,313.0 L1275.0,313.1 L1275.6,313.1 L1276.1,313.1 L1276.7,313.2 L1277.3,313.2 L1277.8,313.3 L1278.4,313.3 L1279.0,313.3 L1279.6,313.4 L1280.1,313.4 L1280.7,313.5 L1281.3,313.5 L1281.8,313.5 L1282.4,313.6 L1283.0,313.6 L1283.6,313.7 L1284.1,313.7 L1284.7,313.7 L1285.3,313.8 L1285.8,313.8 L1286.4,313.9 L1287.0,313.9 L1287.6,314.0 L1288.1,314.0 L1288.7,314.0 L1289.3,314.1 L1289.8,314.1 L1290.4,314.2 L1291.0,314.2 L1291.6,314.3 L1292.1,314.3 L1292.7,314.3 L1293.3,314.4 L1293.8,314.4 L1294.4,314.5 L1295.0,314.5 L1295.6,314.6 L1296.1,314.6 L1296.7,314.7 L1297.3,314.7 L1297.8,314.8 L1298.4,314.8 L1299.0,314.9 L1299.5,314.9 L1300.1,315.0 L1300.7,315.0 L1301.3,315.1 L1301.8,315.1 L1302.4,315.2 L1303.0,315.2 L1303.5,315.3 L1304.1,315.3 L1304.7,315.4 L1305.3,315.4 L1305.8,315.5 L1306.4,315.5 L1307.0,315.6 L1307.5,315.6 L1308.1,315.7 L1308.7,315.7 L1309.3,315.8 L1309.8,315.8 L1310.4,315.9 L1311.0,315.9 L1311.5,316.0 L1312.1,316.0 L1312.7,316.1 L1313.3,316.2 L1313.8,316.2 L1314.4,316.3 L1315.0,316.3 L1315.5,316.4 L1316.1,316.4 L1316.7,316.5 L1317.3,316.6 L1317.8,316.6 L1318.4,316.7 L1319.0,316.7 L1319.5,316.8 L1320.1,316.8 L1320.7,316.9 L1321.3,317.0 L1321.8,317.0 L1322.4,317.1 L1323.0,317.1 L1323.5,317.2 L1324.1,317.3 L1324.7,317.3 L1325.2,317.4 L1325.8,317.5 L1326.4,317.5 L1327.0,317.6 L1327.5,317.7 L1328.1,317.7 L1328.7,317.8 L1329.2,317.8 L1329.8,317.9 L1330.4,318.0 L1331.0,318.0 L1331.5,318.1 L1332.1,318.2 L1332.7,318.3 L1333.2,318.3 L1333.8,318.4 L1334.4,318.5 L1335.0,318.5 L1335.5,318.6 L1336.1,318.7 L1336.7,318.7 L1337.2,318.8 L1337.8,318.9 L1338.4,319.0 L1339.0,319.0 L1339.5,319.1 L1340.1,319.2 L1340.7,319.2 L1341.2,319.3 L1341.8,319.4 L1342.4,319.5 L1343.0,319.5 L1343.5,319.6 L1344.1,319.7 L1344.7,319.8 L1345.2,319.9 L1345.8,319.9 L1346.4,320.0 L1347.0,320.1 L1347.5,320.2 L1348.1,320.2 L1348.7,320.3 L1349.2,320.4 L1349.8,320.5 L1350.4,320.6 L1350.9,320.7 L1351.5,320.7 L1352.1,320.8 L1352.7,320.9 L1353.2,321.0 L1353.8,321.1 L1354.4,321.2 L1354.9,321.2 L1355.5,321.3 L1356.1,321.4 L1356.7,321.5 L1357.2,321.6 L1357.8,321.7 L1358.4,321.8 L1358.9,321.9 L1359.5,322.0 L1360.1,322.0 L1360.7,322.1 L1361.2,322.2 L1361.8,322.3 L1362.4,322.4 L1362.9,322.5 L1363.5,322.6 L1364.1,322.7 L1364.7,322.8 L1365.2,322.9 L1365.8,323.0 L1366.4,323.1 L1366.9,323.2 L1367.5,323.3 L1368.1,323.4 L1368.7,323.5 L1369.2,323.6 L1369.8,323.7 L1370.4,323.8 L1370.9,323.9 L1371.5,324.0 L1372.1,324.1 L1372.6,324.2 L1373.2,324.3 L1373.8,324.4 L1374.4,324.5 L1374.9,324.6 L1375.5,324.7 L1376.1,324.8 L1376.6,324.9 L1377.2,325.0 L1377.8,325.1 L1378.4,325.3 L1378.9,325.4 L1379.5,325.5 L1380.1,325.6 L1380.6,325.7 L1381.2,325.8 L1381.8,325.9 L1382.4,326.0 L1382.9,326.2 L1383.5,326.3 L1384.1,326.4 L1384.6,326.5 L1385.2,326.6 L1385.8,326.7 L1386.4,326.9 L1386.9,327.0 L1387.5,327.1 L1388.1,327.2 L1388.6,327.3 L1389.2,327.4 L1389.8,327.6 L1390.4,327.7 L1390.9,327.8 L1391.5,327.9 L1392.1,328.1 L1392.6,328.2 L1393.2,328.3 L1393.8,328.4 L1394.4,328.6 L1394.9,328.7 L1395.5,328.8 L1396.1,328.9 L1396.6,329.1 L1397.2,329.2 L1397.8,329.3 L1398.3,329.4 L1398.9,329.6 L1399.5,329.7 L1400.1,329.8 L1400.6,330.0 L1401.2,330.1 L1401.8,330.2 L1402.3,330.3 L1402.9,330.5 L1403.5,330.6 L1404.1,330.7 L1404.6,330.9 L1405.2,331.0 L1405.8,331.1 L1406.3,331.2 L1406.9,331.4 L1407.5,331.5 L1408.1,331.6 L1408.6,331.8 L1409.2,331.9 L1409.8,332.0 L1410.3,332.1 L1410.9,332.3 L1411.5,332.4 L1412.1,332.5 L1412.6,332.7 L1413.2,332.8 L1413.8,332.9 L1414.3,333.0 L1414.9,333.1 L1415.5,333.3 L1416.1,333.4 L1416.6,333.5 L1417.2,333.6 L1417.8,333.7 L1418.3,333.9 L1418.9,334.0 L1419.5,334.1 L1420.0,334.2 L1420.6,334.3 L1421.2,334.4 L1421.8,334.5 L1422.3,334.6 L1422.9,334.7 L1423.5,334.8 L1424.0,334.9 L1424.6,335.0 L1425.2,335.1 L1425.8,335.1 L1426.3,335.2 L1426.9,335.3 L1427.5,335.4 L1428.0,335.4 L1428.6,335.5 L1429.2,335.5 L1429.8,335.6 L1430.3,335.6 L1430.9,335.7 L1431.5,335.7 L1432.0,335.7 L1432.6,335.8 L1433.2,335.8 L1433.8,335.8 L1434.3,335.8 L1434.9,335.7 L1435.5,335.7 L1436.0,335.7 L1436.6,335.6 L1437.2,335.6 L1437.8,335.5 L1438.3,335.4 L1438.9,335.3 L1439.5,335.2 L1440.0,335.1 L1440.6,335.0 L1441.2,334.8 L1441.8,334.7 L1442.3,334.5 L1442.9,334.3 L1443.5,334.0 L1444.0,333.8 L1444.6,333.5 L1445.2,333.2 L1445.7,332.9 L1446.3,332.6 L1446.9,332.2 L1447.5,331.8 L1448.0,331.4 L1448.6,330.9 L1449.2,330.4 L1449.7,329.9 L1450.3,329.3 L1450.9,328.7 L1451.5,328.1 L1452.0,327.4 L1452.6,326.7 L1453.2,325.9 L1453.7,325.0 L1454.3,324.2 L1454.9,323.2 L1455.5,322.2 L1456.0,321.2 L1456.6,320.0 L1457.2,318.8 L1457.7,317.6 L1458.3,316.2 L1458.9,314.8 L1459.5,313.3 L1460.0,311.7 L1460.6,310.0 L1461.2,308.3 L1461.7,306.4 L1462.3,304.4 L1462.9,302.3 L1463.5,300.1 L1464.0,297.8 L1464.6,295.4 L1465.2,292.8 L1465.7,290.1 L1466.3,287.3 L1466.9,284.3 L1467.4,281.2 L1468.0,277.9 L1468.6,274.4 L1469.2,270.8 L1469.7,267.1 L1470.3,263.1 L1470.9,259.0 L1471.4,254.8 L1472.0,250.3 L1472.6,245.7 L1473.2,240.9 L1473.7,235.9 L1474.3,230.7 L1474.9,225.4 L1475.4,219.9 L1476.0,214.3 L1476.6,208.5 L1477.2,202.5 L1477.7,196.4 L1478.3,190.2 L1478.9,183.9 L1479.4,177.4 L1480.0,170.9 L1480.6,164.4 L1481.2,157.8 L1481.7,151.2 L1482.3,144.5 L1482.9,137.9 L1483.4,131.4 L1484.0,125.0 L1484.6,118.6 L1485.2,112.4 L1485.7,106.3 L1486.3,100.4 L1486.9,94.7 L1487.4,89.2 L1488.0,84.0 L1488.6,79.1 L1489.2,74.4 L1489.7,70.0 L1490.3,66.0 L1490.9,62.2 L1491.4,58.8 L1492.0,55.7 L1492.6,53.0 L1493.1,50.6 L1493.7,48.5 L1494.3,46.7 L1494.9,45.3 L1495.4,44.2 L1496.0,43.3 L1496.6,42.8 L1497.1,42.6 L1497.7,42.6 L1498.3,42.8 L1498.9,43.3 L1499.4,44.1 L1500.0,45.0 L1500.6,46.1 L1501.1,47.4 L1501.7,48.9 L1502.3,50.5 L1502.9,52.2 L1503.4,54.1 L1504.0,56.0 L1504.6,58.1 L1505.1,60.3 L1505.7,62.5 L1506.3,64.8 L1506.9,67.1 L1507.4,69.5 L1508.0,71.9 L1508.6,74.4 L1509.1,76.8 L1509.7,79.3 L1510.3,81.8 L1510.9,84.3 L1511.4,86.8 L1512.0,89.3 L1512.6,91.8 L1513.1,94.3 L1513.7,96.8 L1514.3,99.2 L1514.9,101.6 L1515.4,104.1 L1516.0,106.4 L1516.6,108.8 L1517.1,111.1 L1517.7,113.4 L1518.3,115.7 L1518.8,117.9 L1519.4,120.1 L1520.0,122.3 L1520.6,124.4 L1521.1,126.5 L1521.7,128.6 L1522.3,130.6 L1522.8,132.6 L1523.4,134.6 L1524.0,136.5 L1524.6,138.4 L1525.1,140.3 L1525.7,142.2 L1526.3,144.0 L1526.8,145.7 L1527.4,147.5 L1528.0,149.2 L1528.6,150.9 L1529.1,152.5 L1529.7,154.2 L1530.3,155.7 L1530.8,157.3 L1531.4,158.8 L1532.0,160.4 L1532.6,161.8 L1533.1,163.3 L1533.7,164.7 L1534.3,166.1 L1534.8,167.5 L1535.4,168.8 L1536.0,170.2 L1536.6,171.5 L1537.1,172.7 L1537.7,174.0 L1538.3,175.2 L1538.8,176.4 L1539.4,177.6 L1540.0,178.8 L1540.5,179.9 L1541.1,181.1 L1541.7,182.2 L1542.3,183.3 L1542.8,184.3 L1543.4,185.4 L1544.0,186.4 L1544.5,187.4 L1545.1,188.4 L1545.7,189.4 L1546.3,190.4 L1546.8,191.3 L1547.4,192.2 L1548.0,193.1 L1548.5,194.0 L1549.1,194.9 L1549.7,195.8 L1550.3,196.6 L1550.8,197.5 L1551.4,198.3 L1552.0,199.1 L1552.5,199.9 L1553.1,200.7 L1553.7,201.5 L1554.3,202.2 L1554.8,203.0 L1555.4,203.7 L1556.0,204.5 L1556.5,205.2 L1557.1,205.9 L1557.7,206.6 L1558.3,207.3 L1558.8,207.9 L1559.4,208.6 L1560.0,209.2 L1560.5,209.9 L1561.1,210.5 L1561.7,211.1 L1562.3,211.7 L1562.8,212.4 L1563.4,212.9 L1564.0,213.5 L1564.5,214.1 L1565.1,214.7 L1565.7,215.2 L1566.2,215.8 L1566.8,216.3 L1567.4,216.9 L1568.0,217.4 L1568.5,217.9 L1569.1,218.4 L1569.7,219.0 L1570.2,219.5 L1570.8,219.9 L1571.4,220.4 L1572.0,220.9 L1572.5,221.4 L1573.1,221.9 L1573.7,222.3 L1574.2,222.8 L1574.8,223.2 L1575.4,223.7 L1576.0,224.1 L1576.5,224.5 L1577.1,225.0 L1577.7,225.4 L1578.2,225.8 L1578.8,226.2 L1579.4,226.6 L1580.0,227.0 L1580.5,227.4 L1581.1,227.8 L1581.7,228.2 L1582.2,228.6 L1582.8,228.9 L1583.4,229.3 L1584.0,229.7 L1584.5,230.0 L1585.1,230.4 L1585.7,230.7 L1586.2,231.1 L1586.8,231.4 L1587.4,231.8 L1587.9,232.1 L1588.5,232.4 L1589.1,232.8 L1589.7,233.1 L1590.2,233.4 L1590.8,233.7 L1591.4,234.0 L1591.9,234.4 L1592.5,234.7 L1593.1,235.0 L1593.7,235.3 L1594.2,235.6 L1594.8,235.9 L1595.4,236.1 L1595.9,236.4 L1596.5,236.7 L1597.1,237.0 L1597.7,237.3 L1598.2,237.5 L1598.8,237.8 L1599.4,238.1 L1599.9,238.3 L1600.5,238.6 L1601.1,238.9 L1601.7,239.1 L1602.2,239.4 L1602.8,239.6 L1603.4,239.9 L1603.9,240.1 L1604.5,240.4 L1605.1,240.6 L1605.7,240.8 L1606.2,241.1 L1606.8,241.3 L1607.4,241.5 L1607.9,241.8 L1608.5,242.0 L1609.1,242.2 L1609.7,242.4 L1610.2,242.7 L1610.8,242.9 L1611.4,243.1 L1611.9,243.3 L1612.5,243.5 L1613.1,243.7 L1613.6,243.9 L1614.2,244.1 L1614.8,244.3 L1615.4,244.5 L1615.9,244.7 L1616.5,244.9 L1617.1,245.1 L1617.6,245.3 L1618.2,245.5 L1618.8,245.7 L1619.4,245.9 L1619.9,246.1 L1620.5,246.2 L1621.1,246.4 L1621.6,246.6 L1622.2,246.8 L1622.8,247.0 L1623.4,247.1 L1623.9,247.3 L1624.5,247.5 L1625.1,247.7 L1625.6,247.8 L1626.2,248.0 L1626.8,248.2 L1627.4,248.3 L1627.9,248.5 L1628.5,248.6 L1629.1,248.8 L1629.6,249.0 L1630.2,249.1 L1630.8,249.3 L1631.4,249.4 L1631.9,249.6 L1632.5,249.7 L1633.1,249.9 L1633.6,250.0 L1634.2,250.2 L1634.8,250.3 L1635.3,250.5 L1635.9,250.6 L1636.5,250.8 L1637.1,250.9 L1637.6,251.0 L1638.2,251.2 L1638.8,251.3 L1639.3,251.5 L1639.9,251.6 L1640.5,251.7 L1641.1,251.9 L1641.6,252.0 L1642.2,252.1 L1642.8,252.3 L1643.3,252.4 L1643.9,252.5 L1644.5,252.6 L1645.1,252.8 L1645.6,252.9 L1646.2,253.0 L1646.8,253.1 L1647.3,253.3 L1647.9,253.4 L1648.5,253.5 L1649.1,253.6 L1649.6,253.7 L1650.2,253.9 L1650.8,254.0 L1651.3,254.1 L1651.9,254.2 L1652.5,254.3 L1653.1,254.4 L1653.6,254.5 L1654.2,254.7 L1654.8,254.8 L1655.3,254.9 L1655.9,255.0 L1656.5,255.1 L1657.1,255.2 L1657.6,255.3 L1658.2,255.4 L1658.8,255.5 L1659.3,255.6 L1659.9,255.7 L1660.5,255.8 L1661.0,255.9 L1661.6,256.0 L1662.2,256.1 L1662.8,256.2 L1663.3,256.3 L1663.9,256.4 L1664.5,256.5 L1665.0,256.6 L1665.6,256.7 L1666.2,256.8 L1666.8,256.9 L1667.3,257.0 L1667.9,257.1 L1668.5,257.2 L1669.0,257.3 L1669.6,257.3 L1670.2,257.4 L1670.8,257.5 L1671.3,257.6 L1671.9,257.7 L1672.5,257.8 L1673.0,257.9 L1673.6,258.0 L1674.2,258.0 L1674.8,258.1 L1675.3,258.2 L1675.9,258.3 L1676.5,258.4 L1677.0,258.5 L1677.6,258.5 L1678.2,258.6 L1678.8,258.7 L1679.3,258.8 L1679.9,258.9 L1680.5,258.9 L1681.0,259.0 L1681.6,259.1 L1682.2,259.2 L1682.8,259.3 L1683.3,259.3 L1683.9,259.4 L1684.5,259.5 L1685.0,259.6 L1685.6,259.6 L1686.2,259.7 L1686.7,259.8 L1687.3,259.9 L1687.9,259.9 L1688.5,260.0 L1689.0,260.1 L1689.6,260.1 L1690.2,260.2 L1690.7,260.3 L1691.3,260.4 L1691.9,260.4 L1692.5,260.5 L1693.0,260.6 L1693.6,260.6 L1694.2,260.7 L1694.7,260.8 L1695.3,260.8 L1695.9,260.9 L1696.5,261.0 L1697.0,261.0 L1697.6,261.1 L1698.2,261.2 L1698.7,261.2 L1699.3,261.3 L1699.9,261.3 L1700.5,261.4 L1701.0,261.5 L1701.6,261.5 L1702.2,261.6 L1702.7,261.6 L1703.3,261.7 L1703.9,261.8 L1704.5,261.8 L1705.0,261.9 L1705.6,261.9 L1706.2,262.0 L1706.7,262.1 L1707.3,262.1 L1707.9,262.2 L1708.4,262.2 L1709.0,262.3 L1709.6,262.4 L1710.2,262.4 L1710.7,262.5 L1711.3,262.5 L1711.9,262.6 L1712.4,262.6 L1713.0,262.7 L1713.6,262.7 L1714.2,262.8 L1714.7,262.8 L1715.3,262.9 L1715.9,262.9 L1716.4,263.0 L1717.0,263.1 L1717.6,263.1 L1718.2,263.2 L1718.7,263.2 L1719.3,263.3" fill="none" stroke="#acacac" stroke-opacity="0.8" stroke-width="4.3" stroke-dasharray="6.3,12.9" stroke-linecap="round"/>
</g>
<rect x="1263" y="16.4" width="456.3" height="367.4" fill="none" stroke="#000" stroke-width="2.6"/>
<line x1="1292.8" y1="383.8" x2="1292.8" y2="374.3" stroke="#000" stroke-width="2.4"/>
<line x1="1292.8" y1="16.4" x2="1292.8" y2="25.9" stroke="#000" stroke-width="2.4"/>
<line x1="1414.4" y1="383.8" x2="1414.4" y2="374.3" stroke="#000" stroke-width="2.4"/>
<line x1="1414.4" y1="16.4" x2="1414.4" y2="25.9" stroke="#000" stroke-width="2.4"/>
<line x1="1536.7" y1="383.8" x2="1536.7" y2="374.3" stroke="#000" stroke-width="2.4"/>
<line x1="1536.7" y1="16.4" x2="1536.7" y2="25.9" stroke="#000" stroke-width="2.4"/>
<line x1="1658.5" y1="383.8" x2="1658.5" y2="374.3" stroke="#000" stroke-width="2.4"/>
<line x1="1658.5" y1="16.4" x2="1658.5" y2="25.9" stroke="#000" stroke-width="2.4"/>
<line x1="1263" y1="68.7" x2="1272.5" y2="68.7" stroke="#000" stroke-width="2.4"/>
<line x1="1719.3" y1="68.7" x2="1709.8" y2="68.7" stroke="#000" stroke-width="2.4"/>
<line x1="1263" y1="173.8" x2="1272.5" y2="173.8" stroke="#000" stroke-width="2.4"/>
<line x1="1719.3" y1="173.8" x2="1709.8" y2="173.8" stroke="#000" stroke-width="2.4"/>
<line x1="1263" y1="278.8" x2="1272.5" y2="278.8" stroke="#000" stroke-width="2.4"/>
<line x1="1719.3" y1="278.8" x2="1709.8" y2="278.8" stroke="#000" stroke-width="2.4"/>
<line x1="1263" y1="121.2" x2="1267.5" y2="121.2" stroke="#000" stroke-width="2.4"/>
<line x1="1719.3" y1="121.2" x2="1714.8" y2="121.2" stroke="#000" stroke-width="2.4"/>
<line x1="1263" y1="226.3" x2="1267.5" y2="226.3" stroke="#000" stroke-width="2.4"/>
<line x1="1719.3" y1="226.3" x2="1714.8" y2="226.3" stroke="#000" stroke-width="2.4"/>
<line x1="1263" y1="331.3" x2="1267.5" y2="331.3" stroke="#000" stroke-width="2.4"/>
<line x1="1719.3" y1="331.3" x2="1714.8" y2="331.3" stroke="#000" stroke-width="2.4"/>
<text class="s" x="1251.5" y="76.3" font-size="26.5" fill="#000" text-anchor="end">0.4</text>
<text class="s" x="1251.5" y="181.4" font-size="26.5" fill="#000" text-anchor="end">0.2</text>
<text class="s" x="1251.5" y="286.4" font-size="26.5" fill="#000" text-anchor="end">0.0</text>
<text class="s" x="1251.5" y="391.4" font-size="26.5" fill="#000" text-anchor="end">-0.2</text>
<text class="s" x="1292.8" y="416.5" font-size="26.5" fill="#000" text-anchor="middle">-140</text>
<text class="s" x="1414.4" y="416.5" font-size="26.5" fill="#000" text-anchor="middle">-120</text>
<text class="s" x="1536.7" y="416.5" font-size="26.5" fill="#000" text-anchor="middle">-100</text>
<text class="s" x="1658.5" y="416.5" font-size="26.5" fill="#000" text-anchor="middle">-80</text>
<text class="s" x="1496.5" y="450" font-size="26.5" text-anchor="middle" fill="#000"><tspan font-style="italic">μ</tspan><tspan font-size="18.5" dy="6">0</tspan><tspan font-style="italic" dy="-6">H</tspan> (mT)</text>
<text class="s" transform="translate(1200.5,195.3) rotate(-90)" font-size="26.5" text-anchor="middle" fill="#000">Δ<tspan font-style="italic">V</tspan> (μV)</text>
<circle cx="1295.2" cy="51.1" r="6" fill="#ab60fd"/>
<circle cx="1557.9" cy="51.1" r="6" fill="#eed086"/>
<line x1="1281" y1="89.3" x2="1309.6" y2="89.3" stroke="#a85cf6" stroke-width="4.3" stroke-linecap="round"/>
<line x1="1544" y1="89.3" x2="1572.2" y2="89.3" stroke="#eed086" stroke-width="4.3" stroke-linecap="round"/>
<text class="s" x="1325" y="61" font-size="26.5" font-style="italic" fill="#000">I</text>
<text class="s" x="1331.5" y="67.2" font-size="18.5" fill="#000">c</text>
<text class="s" x="1348" y="61" font-size="26.5" fill="#000">||</text>
<text class="s" x="1368.2" y="61" font-size="26.5" fill="#000">[2110]</text>
<text class="s" x="1588" y="61" font-size="26.5" font-style="italic" fill="#000">I</text>
<text class="s" x="1594.5" y="67.2" font-size="18.5" fill="#000">c</text>
<text class="s" x="1610.5" y="61" font-size="26.5" fill="#000">||</text>
<text class="s" x="1631.2" y="61" font-size="26.5" fill="#000">[0110]</text>
<g stroke="#000" stroke-width="2"><line x1="1390.8" y1="38" x2="1420" y2="38"/><line x1="1668.5" y1="38" x2="1682.9" y2="38"/></g>
<text class="s" x="1318" y="99.3" font-size="26.5" font-style="italic" fill="#000">V</text>
<text class="s" x="1333.8" y="105.4" font-size="18.5" fill="#000">sym</text>
<text class="s" x="1581" y="99.3" font-size="26.5" font-style="italic" fill="#000">V</text>
<text class="s" x="1595.8" y="105.4" font-size="18.5" fill="#000">sym</text>
</svg></body></html>
